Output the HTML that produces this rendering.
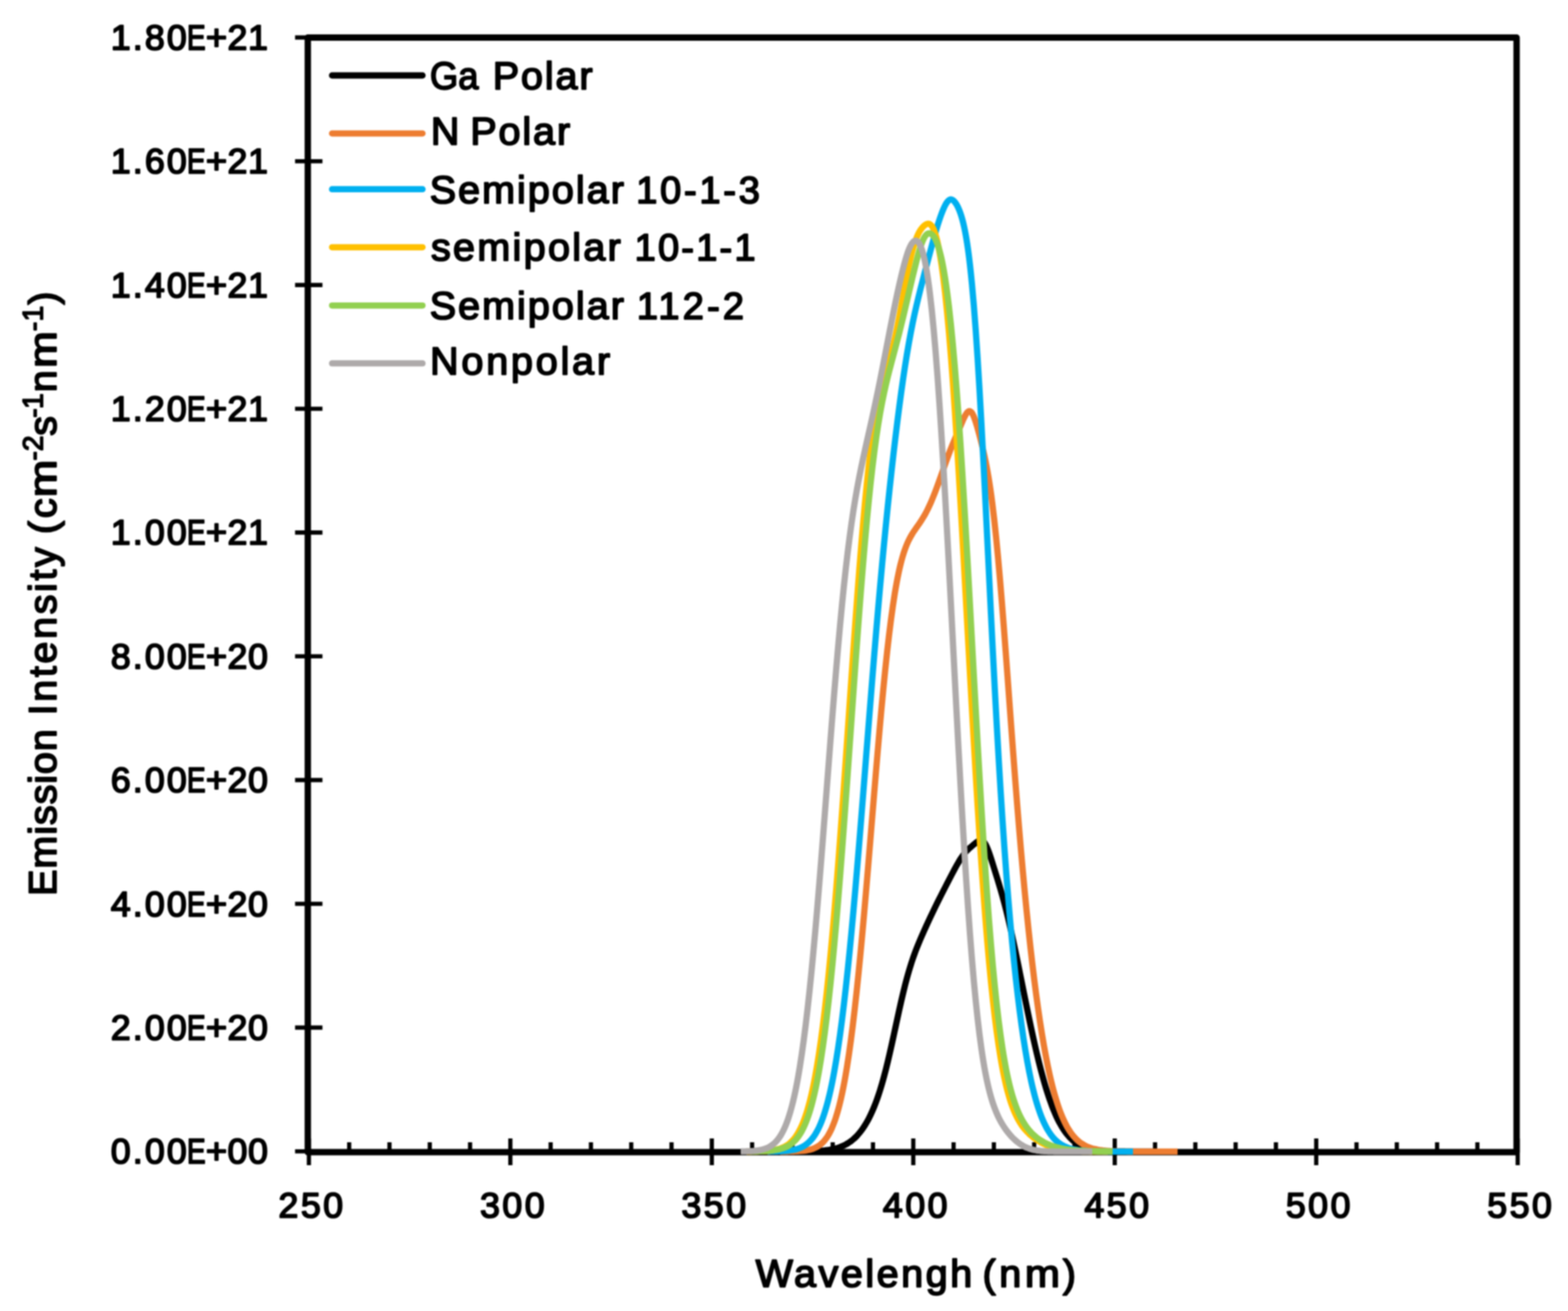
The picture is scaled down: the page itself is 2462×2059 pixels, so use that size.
<!DOCTYPE html>
<html lang="en"><head><meta charset="utf-8"><title>Emission Intensity vs Wavelength</title>
<style>html,body{margin:0;padding:0;background:#fff}body{width:2462px;height:2059px;overflow:hidden}svg{display:block;filter:blur(0.9px)}text{font-family:"Liberation Sans",sans-serif;font-weight:normal;fill:#000;stroke:#000;stroke-width:2.6px;stroke-linejoin:round}</style></head><body>
<svg xmlns="http://www.w3.org/2000/svg" width="2462" height="2059" viewBox="0 0 2462 2059">
<rect x="0" y="0" width="2462" height="2059" fill="#fff"/>
<g fill="none" stroke="#000" stroke-linejoin="round">
<rect x="483.30" y="59.00" width="1898.00" height="1750.60" stroke-width="10.0"/>
</g>
<g stroke="#000" stroke-width="6.6" fill="none">
<line x1="463.3" y1="58.90" x2="506.3" y2="58.90"/>
<line x1="463.3" y1="253.28" x2="506.3" y2="253.28"/>
<line x1="463.3" y1="447.66" x2="506.3" y2="447.66"/>
<line x1="463.3" y1="642.03" x2="506.3" y2="642.03"/>
<line x1="463.3" y1="836.41" x2="506.3" y2="836.41"/>
<line x1="463.3" y1="1030.79" x2="506.3" y2="1030.79"/>
<line x1="463.3" y1="1225.17" x2="506.3" y2="1225.17"/>
<line x1="463.3" y1="1419.54" x2="506.3" y2="1419.54"/>
<line x1="463.3" y1="1613.92" x2="506.3" y2="1613.92"/>
<line x1="463.3" y1="1808.30" x2="506.3" y2="1808.30"/>
<line x1="485.00" y1="1788" x2="485.00" y2="1830"/>
<line x1="548.27" y1="1794" x2="548.27" y2="1809"/>
<line x1="611.53" y1="1794" x2="611.53" y2="1809"/>
<line x1="674.80" y1="1794" x2="674.80" y2="1809"/>
<line x1="738.07" y1="1794" x2="738.07" y2="1809"/>
<line x1="801.33" y1="1788" x2="801.33" y2="1830"/>
<line x1="864.60" y1="1794" x2="864.60" y2="1809"/>
<line x1="927.87" y1="1794" x2="927.87" y2="1809"/>
<line x1="991.13" y1="1794" x2="991.13" y2="1809"/>
<line x1="1054.40" y1="1794" x2="1054.40" y2="1809"/>
<line x1="1117.67" y1="1788" x2="1117.67" y2="1830"/>
<line x1="1180.93" y1="1794" x2="1180.93" y2="1809"/>
<line x1="1244.20" y1="1794" x2="1244.20" y2="1809"/>
<line x1="1307.47" y1="1794" x2="1307.47" y2="1809"/>
<line x1="1370.73" y1="1794" x2="1370.73" y2="1809"/>
<line x1="1434.00" y1="1788" x2="1434.00" y2="1830"/>
<line x1="1497.27" y1="1794" x2="1497.27" y2="1809"/>
<line x1="1560.53" y1="1794" x2="1560.53" y2="1809"/>
<line x1="1623.80" y1="1794" x2="1623.80" y2="1809"/>
<line x1="1687.07" y1="1794" x2="1687.07" y2="1809"/>
<line x1="1750.33" y1="1788" x2="1750.33" y2="1830"/>
<line x1="1813.60" y1="1794" x2="1813.60" y2="1809"/>
<line x1="1876.87" y1="1794" x2="1876.87" y2="1809"/>
<line x1="1940.13" y1="1794" x2="1940.13" y2="1809"/>
<line x1="2003.40" y1="1794" x2="2003.40" y2="1809"/>
<line x1="2066.67" y1="1788" x2="2066.67" y2="1830"/>
<line x1="2129.93" y1="1794" x2="2129.93" y2="1809"/>
<line x1="2193.20" y1="1794" x2="2193.20" y2="1809"/>
<line x1="2256.47" y1="1794" x2="2256.47" y2="1809"/>
<line x1="2319.73" y1="1794" x2="2319.73" y2="1809"/>
<line x1="2383.00" y1="1788" x2="2383.00" y2="1830"/>
</g>
<g fill="none" stroke-linecap="butt" stroke-linejoin="round" stroke-width="9.8">
<path stroke="#000000" d="M1250.00 1808.52 C1251.00 1808.51 1252.00 1808.50 1253.00 1808.49 C1254.00 1808.49 1255.00 1808.48 1256.00 1808.47 C1257.00 1808.46 1258.00 1808.45 1259.00 1808.43 C1260.00 1808.42 1261.00 1808.41 1262.00 1808.39 C1263.00 1808.38 1264.00 1808.36 1265.00 1808.35 C1266.00 1808.33 1267.00 1808.31 1268.00 1808.28 C1269.00 1808.26 1270.00 1808.24 1271.00 1808.21 C1272.00 1808.18 1273.00 1808.16 1274.00 1808.12 C1275.00 1808.09 1276.00 1808.06 1277.00 1808.02 C1278.00 1807.98 1279.00 1807.93 1280.00 1807.89 C1281.00 1807.84 1282.00 1807.79 1283.00 1807.73 C1284.00 1807.68 1285.00 1807.62 1286.00 1807.55 C1287.00 1807.48 1288.00 1807.41 1289.00 1807.33 C1290.00 1807.25 1291.00 1807.17 1292.00 1807.07 C1293.00 1806.98 1294.00 1806.87 1295.00 1806.76 C1296.00 1806.65 1297.00 1806.53 1298.00 1806.40 C1299.00 1806.27 1300.00 1806.13 1301.00 1805.98 C1302.00 1805.82 1303.00 1805.66 1304.00 1805.48 C1305.00 1805.30 1306.00 1805.11 1307.00 1804.90 C1308.00 1804.69 1309.00 1804.47 1310.00 1804.23 C1311.00 1803.99 1312.00 1803.73 1313.00 1803.45 C1314.00 1803.17 1315.00 1802.87 1316.00 1802.55 C1317.00 1802.23 1318.00 1801.89 1319.00 1801.52 C1320.00 1801.15 1321.00 1800.76 1322.00 1800.34 C1323.00 1799.92 1324.01 1799.47 1325.00 1799.00 C1326.01 1798.51 1327.01 1798.01 1328.00 1797.47 C1329.01 1796.92 1330.01 1796.34 1331.00 1795.73 C1332.01 1795.11 1333.01 1794.46 1334.00 1793.78 C1335.01 1793.08 1336.01 1792.35 1337.00 1791.58 C1338.01 1790.79 1339.01 1789.97 1340.00 1789.11 C1341.01 1788.23 1342.01 1787.32 1343.00 1786.36 C1344.01 1785.38 1345.01 1784.36 1346.00 1783.30 C1347.01 1782.21 1348.01 1781.07 1349.00 1779.90 C1350.02 1778.69 1351.02 1777.44 1352.00 1776.14 C1353.02 1774.80 1354.02 1773.42 1355.00 1771.99 C1356.02 1770.52 1357.02 1768.99 1358.00 1767.43 C1359.02 1765.80 1360.02 1764.13 1361.00 1762.41 C1362.02 1760.63 1363.02 1758.80 1364.00 1756.92 C1365.02 1754.97 1366.02 1752.96 1367.00 1750.90 C1368.02 1748.77 1369.02 1746.57 1370.00 1744.33 C1371.02 1741.99 1372.02 1739.60 1373.00 1737.15 C1374.02 1734.60 1375.02 1732.00 1376.00 1729.33 C1377.02 1726.56 1378.02 1723.72 1379.00 1720.82 C1380.02 1717.81 1381.02 1714.73 1382.00 1711.59 C1383.02 1708.34 1384.02 1705.01 1385.00 1701.62 C1386.02 1698.11 1387.02 1694.53 1388.00 1690.89 C1389.02 1687.13 1390.01 1683.30 1391.00 1679.42 C1392.01 1675.43 1393.01 1671.36 1394.00 1667.26 C1395.01 1663.05 1396.01 1658.77 1397.00 1654.47 C1398.01 1650.08 1399.01 1645.63 1400.00 1641.16 C1401.01 1636.64 1402.00 1632.06 1403.00 1627.49 C1404.00 1622.88 1405.00 1618.24 1406.00 1613.61 C1407.00 1608.98 1408.00 1604.33 1409.00 1599.71 C1410.00 1595.12 1410.99 1590.53 1412.00 1585.99 C1412.99 1581.50 1413.99 1577.03 1415.00 1572.63 C1415.99 1568.30 1416.99 1564.01 1418.00 1559.79 C1418.99 1555.68 1419.98 1551.61 1421.00 1547.62 C1421.99 1543.75 1422.98 1539.93 1424.00 1536.19 C1424.98 1532.57 1425.98 1529.02 1427.00 1525.54 C1427.98 1522.19 1428.98 1518.90 1430.00 1515.67 C1430.98 1512.56 1431.98 1509.52 1433.00 1506.53 C1433.98 1503.64 1434.98 1500.82 1436.00 1498.04 C1436.99 1495.34 1437.99 1492.70 1439.00 1490.09 C1439.99 1487.55 1440.99 1485.05 1442.00 1482.58 C1442.99 1480.16 1443.99 1477.78 1445.00 1475.41 C1445.99 1473.08 1446.99 1470.78 1448.00 1468.49 C1448.99 1466.22 1450.00 1463.97 1451.00 1461.74 C1452.00 1459.52 1453.00 1457.31 1454.00 1455.12 C1455.00 1452.93 1456.00 1450.76 1457.00 1448.59 C1458.00 1446.44 1459.00 1444.29 1460.00 1442.16 C1461.00 1440.03 1462.00 1437.91 1463.00 1435.81 C1464.00 1433.71 1465.00 1431.62 1466.00 1429.54 C1467.00 1427.47 1468.00 1425.42 1469.00 1423.37 C1470.00 1421.33 1471.00 1419.30 1472.00 1417.28 C1473.00 1415.27 1474.00 1413.27 1475.00 1411.28 C1476.00 1409.30 1477.00 1407.32 1478.00 1405.35 C1479.00 1403.38 1480.00 1401.42 1481.00 1399.46 C1482.00 1397.51 1483.00 1395.56 1484.00 1393.62 C1485.00 1391.67 1486.00 1389.73 1487.00 1387.79 C1488.00 1385.85 1489.00 1383.91 1490.00 1381.98 C1491.00 1380.05 1492.00 1378.11 1493.00 1376.19 C1494.00 1374.28 1495.00 1372.36 1496.00 1370.46 C1497.00 1368.57 1497.99 1366.69 1499.00 1364.83 C1499.99 1362.99 1500.99 1361.16 1502.00 1359.36 C1502.99 1357.60 1503.99 1355.84 1505.00 1354.14 C1505.99 1352.48 1506.98 1350.83 1508.00 1349.25 C1508.98 1347.71 1509.98 1346.21 1511.00 1344.77 C1511.98 1343.38 1512.98 1342.04 1514.00 1340.76 C1514.98 1339.54 1515.98 1338.36 1517.00 1337.24 C1517.98 1336.17 1518.99 1335.15 1520.00 1334.17 C1520.99 1333.22 1521.99 1332.32 1523.00 1331.43 C1523.99 1330.55 1525.00 1329.72 1526.00 1328.87 C1527.00 1328.02 1528.00 1327.18 1529.00 1326.34 C1530.00 1325.51 1530.99 1324.65 1532.00 1323.85 C1532.99 1323.06 1533.97 1322.23 1535.00 1321.58 C1535.98 1320.97 1536.97 1320.31 1538.00 1320.01 C1538.97 1319.73 1540.03 1319.55 1541.00 1319.76 C1542.03 1319.97 1543.08 1320.61 1544.00 1321.40 C1545.11 1322.35 1546.07 1323.80 1547.00 1325.29 C1548.09 1327.04 1549.05 1329.19 1550.00 1331.36 C1551.06 1333.78 1552.03 1336.47 1553.00 1339.17 C1554.03 1342.05 1555.01 1345.09 1556.00 1348.12 C1557.01 1351.23 1558.00 1354.43 1559.00 1357.61 C1560.00 1360.81 1561.00 1364.04 1562.00 1367.26 C1563.00 1370.49 1564.00 1373.71 1565.00 1376.95 C1566.00 1380.21 1567.01 1383.46 1568.00 1386.75 C1569.01 1390.08 1570.01 1393.43 1571.00 1396.82 C1572.01 1400.29 1573.01 1403.79 1574.00 1407.34 C1575.01 1410.98 1576.01 1414.67 1577.00 1418.41 C1578.01 1422.26 1579.01 1426.16 1580.00 1430.11 C1581.01 1434.16 1582.01 1438.27 1583.00 1442.43 C1584.01 1446.68 1585.01 1450.99 1586.00 1455.34 C1587.01 1459.77 1588.01 1464.26 1589.00 1468.78 C1590.01 1473.38 1591.01 1478.02 1592.00 1482.69 C1593.01 1487.42 1594.00 1492.19 1595.00 1496.98 C1596.00 1501.81 1597.00 1506.68 1598.00 1511.56 C1599.00 1516.47 1600.00 1521.41 1601.00 1526.35 C1602.00 1531.31 1603.00 1536.29 1604.00 1541.26 C1605.00 1546.24 1606.00 1551.22 1607.00 1556.20 C1608.00 1561.16 1609.00 1566.13 1610.00 1571.07 C1611.00 1575.99 1612.00 1580.91 1613.00 1585.80 C1614.00 1590.66 1615.00 1595.50 1616.00 1600.31 C1617.00 1605.07 1617.99 1609.82 1619.00 1614.52 C1619.99 1619.17 1620.99 1623.79 1622.00 1628.37 C1622.99 1632.88 1623.99 1637.36 1625.00 1641.80 C1625.99 1646.15 1626.99 1650.48 1628.00 1654.74 C1628.99 1658.93 1629.99 1663.08 1631.00 1667.17 C1631.99 1671.17 1632.99 1675.13 1634.00 1679.04 C1634.99 1682.85 1635.99 1686.61 1637.00 1690.32 C1637.99 1693.92 1638.99 1697.48 1640.00 1700.98 C1640.99 1704.39 1641.98 1707.74 1643.00 1711.03 C1643.99 1714.22 1644.98 1717.36 1646.00 1720.44 C1646.98 1723.42 1647.98 1726.36 1649.00 1729.22 C1649.98 1732.00 1650.98 1734.72 1652.00 1737.38 C1652.98 1739.95 1653.98 1742.47 1655.00 1744.92 C1655.98 1747.29 1656.98 1749.61 1658.00 1751.86 C1658.98 1754.04 1659.98 1756.16 1661.00 1758.22 C1661.98 1760.21 1662.98 1762.15 1664.00 1764.03 C1664.98 1765.84 1665.98 1767.60 1667.00 1769.30 C1667.98 1770.95 1668.98 1772.54 1670.00 1774.08 C1670.98 1775.56 1671.98 1776.99 1673.00 1778.38 C1673.98 1779.71 1674.98 1781.00 1676.00 1782.23 C1676.98 1783.43 1677.98 1784.58 1679.00 1785.68 C1679.98 1786.75 1680.99 1787.77 1682.00 1788.74 C1682.99 1789.69 1683.99 1790.60 1685.00 1791.46 C1685.99 1792.30 1686.99 1793.10 1688.00 1793.86 C1688.99 1794.60 1689.99 1795.30 1691.00 1795.97 C1691.99 1796.62 1692.99 1797.23 1694.00 1797.81 C1694.99 1798.38 1695.99 1798.91 1697.00 1799.42 C1697.99 1799.91 1698.99 1800.38 1700.00 1800.81 C1700.99 1801.24 1702.00 1801.64 1703.00 1802.02 C1704.00 1802.39 1705.00 1802.74 1706.00 1803.06 C1707.00 1803.38 1708.00 1803.68 1709.00 1803.95 C1710.00 1804.23 1711.00 1804.48 1712.00 1804.71 C1713.00 1804.95 1714.00 1805.16 1715.00 1805.36 C1716.00 1805.56 1717.00 1805.74 1718.00 1805.91 C1719.00 1806.08 1720.00 1806.23 1721.00 1806.38 C1722.00 1806.52 1723.00 1806.65 1724.00 1806.77 C1725.00 1806.89 1726.00 1806.99 1727.00 1807.10 C1728.00 1807.20 1729.00 1807.28 1730.00 1807.37 C1731.00 1807.45 1732.00 1807.53 1733.00 1807.60 C1734.00 1807.66 1735.00 1807.73 1736.00 1807.78 C1737.00 1807.84 1738.00 1807.89 1739.00 1807.94 C1740.00 1807.99 1741.00 1808.03 1742.00 1808.07 C1743.00 1808.11 1744.00 1808.14 1745.00 1808.17 C1746.00 1808.20 1747.00 1808.23 1748.00 1808.26 C1749.00 1808.28 1750.00 1808.31 1751.00 1808.33 C1752.00 1808.35 1753.00 1808.37 1754.00 1808.38 C1755.00 1808.40 1756.00 1808.41 1757.00 1808.43 C1758.00 1808.44 1759.00 1808.45 1760.00 1808.46 C1761.00 1808.47 1762.00 1808.48 1763.00 1808.49 C1764.00 1808.50 1765.00 1808.51 1766.00 1808.52 C1767.00 1808.52 1768.00 1808.53 1769.00 1808.53 C1770.00 1808.54 1771.00 1808.54 1772.00 1808.55 C1773.00 1808.55 1774.00 1808.56 1775.00 1808.56 C1776.00 1808.56 1777.00 1808.57 1778.00 1808.57 C1779.00 1808.57 1780.00 1808.57 1781.00 1808.58 C1782.00 1808.58 1783.00 1808.58 1784.00 1808.58 C1785.00 1808.58 1786.00 1808.58 1787.00 1808.59 C1788.00 1808.59 1789.00 1808.59 1790.00 1808.59 C1791.00 1808.59 1792.00 1808.59 1793.00 1808.59 C1794.00 1808.59 1795.00 1808.59 1796.00 1808.59 C1797.00 1808.59 1798.00 1808.59 1799.00 1808.60 C1800.00 1808.60 1801.00 1808.60 1802.00 1808.60 C1803.00 1808.60 1804.00 1808.60 1805.00 1808.60 C1806.00 1808.60 1807.10 1808.60 1808.00 1808.60 C1808.73 1808.60 1809.33 1808.60 1810.00 1808.60"/>
<path stroke="#ED7D31" d="M1225.00 1808.57 C1226.00 1808.57 1227.00 1808.56 1228.00 1808.56 C1229.00 1808.55 1230.00 1808.55 1231.00 1808.54 C1232.00 1808.53 1233.00 1808.53 1234.00 1808.52 C1235.00 1808.51 1236.00 1808.50 1237.00 1808.49 C1238.00 1808.47 1239.00 1808.46 1240.00 1808.44 C1241.00 1808.43 1242.00 1808.41 1243.00 1808.39 C1244.00 1808.36 1245.00 1808.34 1246.00 1808.31 C1247.00 1808.28 1248.00 1808.25 1249.00 1808.21 C1250.00 1808.17 1251.00 1808.13 1252.00 1808.08 C1253.00 1808.03 1254.00 1807.98 1255.00 1807.91 C1256.00 1807.84 1257.00 1807.77 1258.00 1807.69 C1259.00 1807.60 1260.00 1807.51 1261.00 1807.40 C1262.00 1807.29 1263.00 1807.17 1264.00 1807.03 C1265.00 1806.89 1266.00 1806.74 1267.00 1806.56 C1268.00 1806.39 1269.00 1806.19 1270.00 1805.97 C1271.00 1805.74 1272.00 1805.50 1273.00 1805.22 C1274.00 1804.94 1275.01 1804.63 1276.00 1804.28 C1277.01 1803.93 1278.01 1803.55 1279.00 1803.12 C1280.01 1802.68 1281.01 1802.20 1282.00 1801.68 C1283.01 1801.13 1284.01 1800.55 1285.00 1799.90 C1286.02 1799.24 1287.02 1798.52 1288.00 1797.74 C1289.02 1796.94 1290.02 1796.06 1291.00 1795.12 C1292.02 1794.14 1293.02 1793.09 1294.00 1791.97 C1295.03 1790.79 1296.03 1789.52 1297.00 1788.19 C1298.03 1786.77 1299.03 1785.27 1300.00 1783.69 C1301.03 1782.01 1302.03 1780.24 1303.00 1778.38 C1304.03 1776.40 1305.03 1774.31 1306.00 1772.14 C1307.03 1769.82 1308.03 1767.39 1309.00 1764.86 C1310.03 1762.17 1311.03 1759.35 1312.00 1756.43 C1313.03 1753.32 1314.03 1750.07 1315.00 1746.72 C1316.03 1743.15 1317.03 1739.45 1318.00 1735.62 C1319.03 1731.56 1320.03 1727.35 1321.00 1723.01 C1322.03 1718.42 1323.03 1713.67 1324.00 1708.79 C1325.03 1703.63 1326.02 1698.31 1327.00 1692.85 C1328.03 1687.11 1329.02 1681.18 1330.00 1675.12 C1331.03 1668.76 1332.02 1662.22 1333.00 1655.53 C1334.02 1648.54 1335.02 1641.36 1336.00 1634.03 C1337.02 1626.40 1338.02 1618.58 1339.00 1610.62 C1340.02 1602.34 1341.02 1593.88 1342.00 1585.29 C1343.02 1576.39 1344.02 1567.30 1345.00 1558.09 C1346.02 1548.58 1347.01 1538.90 1348.00 1529.10 C1349.01 1519.03 1350.01 1508.78 1351.00 1498.44 C1352.01 1487.84 1353.01 1477.08 1354.00 1466.24 C1355.01 1455.18 1356.01 1443.97 1357.00 1432.70 C1358.01 1421.24 1359.01 1409.66 1360.00 1398.02 C1361.01 1386.25 1362.00 1374.37 1363.00 1362.47 C1364.00 1350.47 1365.00 1338.39 1366.00 1326.30 C1367.00 1314.17 1368.00 1301.99 1369.00 1289.82 C1370.00 1277.66 1371.00 1265.47 1372.00 1253.34 C1373.00 1241.25 1374.00 1229.17 1375.00 1217.16 C1376.00 1205.26 1376.99 1193.38 1378.00 1181.61 C1378.99 1169.99 1379.99 1158.42 1381.00 1146.99 C1381.99 1135.75 1382.99 1124.59 1384.00 1113.59 C1384.99 1102.83 1385.99 1092.17 1387.00 1081.68 C1387.99 1071.48 1388.98 1061.39 1390.00 1051.50 C1390.98 1041.92 1391.98 1032.48 1393.00 1023.24 C1393.98 1014.34 1394.98 1005.59 1396.00 997.06 C1396.98 988.88 1397.97 980.86 1399.00 973.06 C1399.98 965.63 1400.97 958.36 1402.00 951.31 C1402.97 944.63 1403.97 938.12 1405.00 931.82 C1405.97 925.88 1406.97 920.11 1408.00 914.55 C1408.97 909.33 1409.96 904.27 1411.00 899.41 C1411.97 894.87 1412.96 890.48 1414.00 886.28 C1414.97 882.37 1415.96 878.61 1417.00 875.01 C1417.97 871.66 1418.96 868.45 1420.00 865.39 C1420.97 862.55 1421.96 859.82 1423.00 857.22 C1423.97 854.80 1424.97 852.49 1426.00 850.27 C1426.97 848.19 1427.97 846.22 1429.00 844.31 C1429.98 842.50 1430.98 840.77 1432.00 839.09 C1432.98 837.47 1433.99 835.93 1435.00 834.40 C1435.99 832.90 1437.00 831.46 1438.00 830.01 C1439.00 828.58 1440.00 827.17 1441.00 825.74 C1442.00 824.31 1443.01 822.88 1444.00 821.41 C1445.01 819.93 1446.01 818.43 1447.00 816.88 C1448.01 815.30 1449.01 813.69 1450.00 812.04 C1451.02 810.33 1452.02 808.58 1453.00 806.79 C1454.02 804.93 1455.02 803.03 1456.00 801.08 C1457.02 799.06 1458.02 796.99 1459.00 794.88 C1460.02 792.69 1461.01 790.46 1462.00 788.18 C1463.01 785.84 1464.01 783.45 1465.00 781.02 C1466.01 778.53 1467.01 775.99 1468.00 773.43 C1469.01 770.81 1470.01 768.16 1471.00 765.48 C1472.01 762.76 1473.01 760.00 1474.00 757.24 C1475.01 754.45 1476.00 751.63 1477.00 748.81 C1478.00 745.97 1479.00 743.12 1480.00 740.28 C1481.00 737.44 1482.00 734.60 1483.00 731.77 C1484.00 728.96 1484.99 726.16 1486.00 723.38 C1486.99 720.64 1487.99 717.90 1489.00 715.21 C1489.99 712.56 1490.99 709.93 1492.00 707.34 C1492.99 704.80 1493.99 702.29 1495.00 699.81 C1495.99 697.38 1496.99 694.98 1498.00 692.60 C1498.99 690.25 1500.00 687.93 1501.00 685.61 C1502.00 683.29 1503.00 681.00 1504.00 678.68 C1505.00 676.35 1506.00 674.02 1507.00 671.68 C1508.00 669.33 1508.99 666.95 1510.00 664.61 C1510.99 662.30 1511.97 659.95 1513.00 657.75 C1513.97 655.67 1514.93 653.53 1516.00 651.73 C1516.95 650.13 1517.87 648.44 1519.00 647.41 C1519.92 646.58 1520.99 645.73 1522.00 645.71 C1522.99 645.68 1524.10 646.39 1525.00 647.21 C1526.17 648.26 1527.08 650.16 1528.00 651.98 C1529.11 654.17 1530.05 656.87 1531.00 659.57 C1532.06 662.56 1533.03 665.87 1534.00 669.18 C1535.03 672.68 1536.02 676.35 1537.00 680.04 C1538.02 683.85 1539.01 687.74 1540.00 691.68 C1541.01 695.72 1542.02 699.81 1543.00 704.01 C1544.02 708.35 1545.02 712.75 1546.00 717.31 C1547.03 722.10 1548.03 726.99 1549.00 732.07 C1550.03 737.47 1551.03 743.04 1552.00 748.83 C1553.04 755.01 1554.03 761.42 1555.00 768.06 C1556.04 775.15 1557.03 782.52 1558.00 790.10 C1559.03 798.19 1560.03 806.57 1561.00 815.17 C1562.03 824.28 1563.02 833.69 1564.00 843.31 C1565.03 853.41 1566.02 863.82 1567.00 874.41 C1568.02 885.45 1569.02 896.78 1570.00 908.25 C1571.02 920.11 1572.01 932.23 1573.00 944.46 C1574.01 957.01 1575.01 969.77 1576.00 982.60 C1577.01 995.67 1578.01 1008.91 1579.00 1022.18 C1580.01 1035.59 1581.00 1049.13 1582.00 1062.65 C1583.00 1076.23 1584.00 1089.89 1585.00 1103.50 C1586.00 1117.09 1587.00 1130.70 1588.00 1144.24 C1589.00 1157.69 1589.99 1171.13 1591.00 1184.46 C1591.99 1197.65 1592.99 1210.80 1594.00 1223.82 C1594.99 1236.65 1595.99 1249.41 1597.00 1262.03 C1597.99 1274.44 1598.99 1286.75 1600.00 1298.92 C1600.99 1310.85 1601.99 1322.67 1603.00 1334.34 C1603.99 1345.77 1604.99 1357.08 1606.00 1368.24 C1606.99 1379.15 1607.99 1389.93 1609.00 1400.58 C1609.99 1410.96 1610.99 1421.22 1612.00 1431.34 C1612.99 1441.21 1613.99 1450.95 1615.00 1460.56 C1615.99 1469.91 1616.99 1479.14 1618.00 1488.24 C1618.99 1497.09 1619.99 1505.82 1621.00 1514.41 C1621.99 1522.77 1622.98 1531.01 1624.00 1539.11 C1624.99 1546.98 1625.98 1554.74 1627.00 1562.37 C1627.99 1569.76 1628.98 1577.04 1630.00 1584.20 C1630.98 1591.13 1631.98 1597.95 1633.00 1604.64 C1633.98 1611.12 1634.98 1617.48 1636.00 1623.73 C1636.98 1629.76 1637.98 1635.69 1639.00 1641.49 C1639.98 1647.09 1640.98 1652.59 1642.00 1657.97 C1642.98 1663.15 1643.98 1668.24 1645.00 1673.21 C1645.98 1677.99 1646.98 1682.67 1648.00 1687.25 C1648.98 1691.64 1649.98 1695.94 1651.00 1700.14 C1651.98 1704.17 1652.98 1708.10 1654.00 1711.94 C1654.98 1715.62 1655.98 1719.21 1657.00 1722.70 C1657.98 1726.05 1658.98 1729.31 1660.00 1732.49 C1660.98 1735.52 1661.98 1738.48 1663.00 1741.35 C1663.98 1744.09 1664.98 1746.76 1666.00 1749.35 C1666.98 1751.82 1667.98 1754.22 1669.00 1756.55 C1669.98 1758.77 1670.98 1760.92 1672.00 1763.00 C1672.98 1764.99 1673.98 1766.92 1675.00 1768.77 C1675.98 1770.55 1676.98 1772.26 1678.00 1773.91 C1678.98 1775.49 1679.98 1777.01 1681.00 1778.47 C1681.98 1779.87 1682.98 1781.22 1684.00 1782.51 C1684.98 1783.75 1685.98 1784.94 1687.00 1786.07 C1687.98 1787.17 1688.98 1788.21 1690.00 1789.20 C1690.98 1790.16 1691.99 1791.08 1693.00 1791.95 C1693.99 1792.79 1694.99 1793.59 1696.00 1794.34 C1696.99 1795.08 1697.99 1795.77 1699.00 1796.43 C1699.99 1797.07 1700.99 1797.67 1702.00 1798.24 C1702.99 1798.80 1703.99 1799.32 1705.00 1799.81 C1705.99 1800.29 1706.99 1800.74 1708.00 1801.16 C1708.99 1801.58 1710.00 1801.96 1711.00 1802.32 C1712.00 1802.68 1713.00 1803.01 1714.00 1803.32 C1715.00 1803.62 1716.00 1803.90 1717.00 1804.17 C1718.00 1804.43 1719.00 1804.67 1720.00 1804.89 C1721.00 1805.11 1722.00 1805.32 1723.00 1805.51 C1724.00 1805.69 1725.00 1805.87 1726.00 1806.03 C1727.00 1806.19 1728.00 1806.33 1729.00 1806.47 C1730.00 1806.60 1731.00 1806.72 1732.00 1806.83 C1733.00 1806.95 1734.00 1807.05 1735.00 1807.14 C1736.00 1807.24 1737.00 1807.32 1738.00 1807.40 C1739.00 1807.48 1740.00 1807.55 1741.00 1807.62 C1742.00 1807.68 1743.00 1807.74 1744.00 1807.80 C1745.00 1807.85 1746.00 1807.90 1747.00 1807.95 C1748.00 1807.99 1749.00 1808.03 1750.00 1808.07 C1751.00 1808.11 1752.00 1808.14 1753.00 1808.17 C1754.00 1808.20 1755.00 1808.23 1756.00 1808.25 C1757.00 1808.28 1758.00 1808.30 1759.00 1808.32 C1760.00 1808.34 1761.00 1808.36 1762.00 1808.37 C1763.00 1808.39 1764.00 1808.41 1765.00 1808.42 C1766.00 1808.43 1767.00 1808.44 1768.00 1808.46 C1769.00 1808.47 1770.00 1808.48 1771.00 1808.48 C1772.00 1808.49 1773.00 1808.50 1774.00 1808.51 C1775.00 1808.52 1776.00 1808.52 1777.00 1808.53 C1778.00 1808.53 1779.00 1808.54 1780.00 1808.54 C1781.00 1808.55 1782.00 1808.55 1783.00 1808.55 C1784.00 1808.56 1785.00 1808.56 1786.00 1808.56 C1787.00 1808.57 1788.00 1808.57 1789.00 1808.57 C1790.00 1808.57 1791.00 1808.58 1792.00 1808.58 C1793.00 1808.58 1794.00 1808.58 1795.00 1808.58 C1796.00 1808.58 1797.00 1808.59 1798.00 1808.59 C1799.00 1808.59 1800.00 1808.59 1801.00 1808.59 C1802.00 1808.59 1803.00 1808.59 1804.00 1808.59 C1805.00 1808.59 1806.00 1808.59 1807.00 1808.59 C1808.00 1808.59 1809.00 1808.59 1810.00 1808.60 C1811.00 1808.60 1812.00 1808.60 1813.00 1808.60 C1814.00 1808.60 1815.00 1808.60 1816.00 1808.60 C1817.00 1808.60 1818.00 1808.60 1819.00 1808.60 C1820.00 1808.60 1821.00 1808.60 1822.00 1808.60 C1823.00 1808.60 1824.00 1808.60 1825.00 1808.60 C1826.00 1808.60 1827.00 1808.60 1828.00 1808.60 C1829.00 1808.60 1830.00 1808.60 1831.00 1808.60 C1832.00 1808.60 1833.00 1808.60 1834.00 1808.60 C1835.00 1808.60 1836.00 1808.60 1837.00 1808.60 C1838.00 1808.60 1839.00 1808.60 1840.00 1808.60 C1841.00 1808.60 1842.00 1808.60 1843.00 1808.60 C1844.00 1808.60 1845.00 1808.60 1846.00 1808.60 C1847.00 1808.60 1848.00 1808.60 1849.00 1808.60"/>
<path stroke="#00B0F0" d="M1205.00 1808.52 C1206.00 1808.51 1207.00 1808.51 1208.00 1808.50 C1209.00 1808.49 1210.00 1808.48 1211.00 1808.46 C1212.00 1808.45 1213.00 1808.44 1214.00 1808.42 C1215.00 1808.40 1216.00 1808.38 1217.00 1808.36 C1218.00 1808.34 1219.00 1808.31 1220.00 1808.29 C1221.00 1808.26 1222.00 1808.23 1223.00 1808.19 C1224.00 1808.15 1225.00 1808.11 1226.00 1808.07 C1227.00 1808.02 1228.00 1807.97 1229.00 1807.91 C1230.00 1807.85 1231.00 1807.79 1232.00 1807.71 C1233.00 1807.64 1234.00 1807.56 1235.00 1807.46 C1236.00 1807.37 1237.00 1807.27 1238.00 1807.15 C1239.00 1807.03 1240.00 1806.91 1241.00 1806.76 C1242.00 1806.61 1243.00 1806.45 1244.00 1806.27 C1245.00 1806.09 1246.00 1805.90 1247.00 1805.67 C1248.00 1805.45 1249.00 1805.21 1250.00 1804.93 C1251.00 1804.66 1252.00 1804.36 1253.00 1804.03 C1254.00 1803.69 1255.01 1803.33 1256.00 1802.93 C1257.01 1802.52 1258.01 1802.08 1259.00 1801.60 C1260.01 1801.10 1261.01 1800.57 1262.00 1799.99 C1263.01 1799.39 1264.01 1798.75 1265.00 1798.06 C1266.02 1797.35 1267.02 1796.58 1268.00 1795.76 C1269.02 1794.91 1270.02 1794.00 1271.00 1793.03 C1272.02 1792.02 1273.02 1790.94 1274.00 1789.80 C1275.02 1788.61 1276.02 1787.34 1277.00 1786.01 C1278.03 1784.61 1279.03 1783.13 1280.00 1781.58 C1281.03 1779.94 1282.03 1778.22 1283.00 1776.43 C1284.03 1774.53 1285.03 1772.54 1286.00 1770.46 C1287.03 1768.27 1288.03 1765.98 1289.00 1763.60 C1290.03 1761.08 1291.03 1758.46 1292.00 1755.75 C1293.03 1752.87 1294.03 1749.88 1295.00 1746.80 C1296.03 1743.53 1297.03 1740.15 1298.00 1736.66 C1299.03 1732.98 1300.03 1729.17 1301.00 1725.24 C1302.03 1721.11 1303.02 1716.83 1304.00 1712.45 C1305.03 1707.83 1306.02 1703.06 1307.00 1698.18 C1308.03 1693.05 1309.02 1687.77 1310.00 1682.37 C1311.02 1676.70 1312.02 1670.88 1313.00 1664.93 C1314.02 1658.71 1315.02 1652.32 1316.00 1645.81 C1317.02 1639.01 1318.02 1632.05 1319.00 1624.96 C1320.02 1617.58 1321.02 1610.03 1322.00 1602.35 C1323.02 1594.38 1324.02 1586.25 1325.00 1577.98 C1326.02 1569.42 1327.02 1560.70 1328.00 1551.85 C1329.02 1542.71 1330.01 1533.41 1331.00 1523.99 C1332.01 1514.29 1333.01 1504.44 1334.00 1494.47 C1335.01 1484.23 1336.01 1473.85 1337.00 1463.36 C1338.01 1452.63 1339.01 1441.75 1340.00 1430.78 C1341.01 1419.58 1342.01 1408.26 1343.00 1396.85 C1344.01 1385.24 1345.01 1373.52 1346.00 1361.73 C1347.01 1349.77 1348.01 1337.71 1349.00 1325.60 C1350.01 1313.35 1351.00 1301.01 1352.00 1288.64 C1353.00 1276.17 1354.00 1263.63 1355.00 1251.08 C1356.00 1238.46 1357.00 1225.78 1358.00 1213.11 C1359.00 1200.42 1360.00 1187.69 1361.00 1174.98 C1362.00 1162.28 1363.00 1149.56 1364.00 1136.89 C1365.00 1124.26 1366.00 1111.63 1367.00 1099.06 C1368.00 1086.56 1369.00 1074.09 1370.00 1061.69 C1371.00 1049.39 1371.99 1037.13 1373.00 1024.96 C1373.99 1012.91 1374.99 1000.92 1376.00 989.02 C1376.99 977.27 1377.99 965.58 1379.00 953.99 C1379.99 942.57 1380.99 931.23 1382.00 919.98 C1382.99 908.91 1383.99 897.93 1385.00 887.04 C1385.99 876.34 1386.99 865.72 1388.00 855.20 C1388.99 844.86 1389.99 834.62 1391.00 824.47 C1391.99 814.50 1392.99 804.62 1394.00 794.83 C1394.99 785.22 1395.99 775.69 1397.00 766.26 C1397.99 756.99 1398.99 747.82 1400.00 738.73 C1400.99 729.81 1401.99 720.97 1403.00 712.22 C1403.99 703.64 1404.99 695.13 1406.00 686.72 C1406.99 678.48 1407.99 670.32 1409.00 662.25 C1409.99 654.36 1410.99 646.55 1412.00 638.84 C1412.99 631.31 1413.99 623.86 1415.00 616.52 C1415.99 609.36 1416.99 602.30 1418.00 595.34 C1418.99 588.59 1419.98 581.92 1421.00 575.36 C1421.99 569.01 1422.98 562.75 1424.00 556.61 C1424.98 550.66 1425.98 544.82 1427.00 539.08 C1427.98 533.54 1428.98 528.09 1430.00 522.75 C1430.98 517.58 1431.98 512.51 1433.00 507.53 C1433.98 502.71 1434.98 497.98 1436.00 493.32 C1436.99 488.80 1437.99 484.36 1439.00 479.98 C1439.99 475.70 1440.99 471.49 1442.00 467.31 C1442.99 463.22 1443.99 459.18 1445.00 455.16 C1445.99 451.19 1447.00 447.26 1448.00 443.34 C1449.00 439.46 1450.00 435.59 1451.00 431.73 C1452.00 427.88 1453.00 424.05 1454.00 420.22 C1455.00 416.40 1456.00 412.58 1457.00 408.77 C1458.00 404.97 1459.00 401.17 1460.00 397.40 C1461.00 393.64 1461.99 389.89 1463.00 386.17 C1463.99 382.49 1464.99 378.83 1466.00 375.21 C1466.99 371.65 1467.99 368.12 1469.00 364.65 C1469.99 361.26 1470.98 357.91 1472.00 354.63 C1472.99 351.45 1473.98 348.31 1475.00 345.27 C1475.98 342.33 1476.97 339.45 1478.00 336.67 C1478.98 334.03 1479.96 331.43 1481.00 328.98 C1481.97 326.70 1482.94 324.46 1484.00 322.46 C1484.95 320.64 1485.91 318.86 1487.00 317.43 C1487.94 316.20 1488.91 314.98 1490.00 314.27 C1490.93 313.66 1492.00 313.20 1493.00 313.18 C1494.00 313.16 1495.06 313.59 1496.00 314.14 C1497.07 314.77 1498.06 315.84 1499.00 316.93 C1500.07 318.18 1501.05 319.72 1502.00 321.32 C1503.06 323.12 1504.05 325.12 1505.00 327.25 C1506.06 329.61 1507.05 332.16 1508.00 334.88 C1509.06 337.91 1510.05 341.17 1511.00 344.63 C1512.06 348.49 1513.05 352.64 1514.00 357.02 C1515.06 361.92 1516.05 367.15 1517.00 372.66 C1518.06 378.79 1519.05 385.32 1520.00 392.16 C1521.06 399.72 1522.04 407.73 1523.00 416.08 C1524.05 425.23 1525.04 434.88 1526.00 444.89 C1527.04 455.75 1528.03 467.15 1529.00 478.90 C1530.04 491.53 1531.03 504.70 1532.00 518.22 C1533.03 532.60 1534.02 547.51 1535.00 562.73 C1536.03 578.75 1537.02 595.28 1538.00 612.06 C1539.02 629.54 1540.01 647.48 1541.00 665.61 C1542.02 684.30 1543.01 703.37 1544.00 722.56 C1545.01 742.16 1546.01 762.06 1547.00 781.99 C1548.01 802.17 1549.00 822.56 1550.00 842.90 C1551.00 863.32 1552.00 883.86 1553.00 904.28 C1554.00 924.62 1554.99 945.00 1556.00 965.21 C1556.99 985.20 1557.99 1005.14 1559.00 1024.87 C1559.99 1044.27 1560.99 1063.57 1562.00 1082.61 C1562.99 1101.25 1563.99 1119.73 1565.00 1137.94 C1565.99 1155.69 1566.99 1173.25 1568.00 1190.52 C1568.99 1207.31 1569.98 1223.88 1571.00 1240.18 C1571.98 1255.98 1572.98 1271.54 1574.00 1286.84 C1574.98 1301.65 1575.98 1316.22 1577.00 1330.54 C1577.98 1344.38 1578.98 1357.99 1580.00 1371.36 C1580.98 1384.27 1581.98 1396.97 1583.00 1409.43 C1583.98 1421.46 1584.98 1433.28 1586.00 1444.88 C1586.98 1456.08 1587.98 1467.08 1589.00 1477.87 C1589.98 1488.28 1590.98 1498.50 1592.00 1508.52 C1592.98 1518.18 1593.98 1527.67 1595.00 1536.97 C1595.98 1545.92 1596.98 1554.71 1598.00 1563.32 C1598.98 1571.61 1599.98 1579.74 1601.00 1587.69 C1601.98 1595.34 1602.98 1602.84 1604.00 1610.17 C1604.98 1617.22 1605.98 1624.11 1607.00 1630.86 C1607.98 1637.32 1608.98 1643.65 1610.00 1649.83 C1610.98 1655.75 1611.98 1661.54 1613.00 1667.19 C1613.98 1672.59 1614.98 1677.87 1616.00 1683.02 C1616.98 1687.93 1617.98 1692.73 1619.00 1697.40 C1619.98 1701.85 1620.97 1706.20 1622.00 1710.42 C1622.98 1714.44 1623.97 1718.37 1625.00 1722.17 C1625.98 1725.80 1626.97 1729.33 1628.00 1732.75 C1628.98 1736.00 1629.97 1739.16 1631.00 1742.22 C1631.98 1745.13 1632.97 1747.96 1634.00 1750.69 C1634.98 1753.28 1635.97 1755.80 1637.00 1758.22 C1637.98 1760.53 1638.97 1762.76 1640.00 1764.91 C1640.98 1766.95 1641.97 1768.92 1643.00 1770.82 C1643.98 1772.62 1644.98 1774.36 1646.00 1776.03 C1646.98 1777.62 1647.98 1779.14 1649.00 1780.60 C1649.98 1782.00 1650.98 1783.33 1652.00 1784.60 C1652.98 1785.83 1653.98 1786.99 1655.00 1788.10 C1655.98 1789.16 1656.98 1790.17 1658.00 1791.13 C1658.98 1792.06 1659.98 1792.94 1661.00 1793.76 C1661.99 1794.57 1662.99 1795.32 1664.00 1796.04 C1664.99 1796.73 1665.99 1797.38 1667.00 1797.99 C1667.99 1798.59 1668.99 1799.15 1670.00 1799.67 C1670.99 1800.18 1671.99 1800.66 1673.00 1801.10 C1673.99 1801.54 1674.99 1801.95 1676.00 1802.33 C1676.99 1802.70 1678.00 1803.05 1679.00 1803.37 C1680.00 1803.68 1681.00 1803.97 1682.00 1804.25 C1683.00 1804.52 1684.00 1804.76 1685.00 1804.99 C1686.00 1805.22 1687.00 1805.42 1688.00 1805.61 C1689.00 1805.80 1690.00 1805.98 1691.00 1806.14 C1692.00 1806.30 1693.00 1806.44 1694.00 1806.58 C1695.00 1806.71 1696.00 1806.83 1697.00 1806.94 C1698.00 1807.05 1699.00 1807.15 1700.00 1807.24 C1701.00 1807.34 1702.00 1807.42 1703.00 1807.50 C1704.00 1807.57 1705.00 1807.64 1706.00 1807.70 C1707.00 1807.77 1708.00 1807.82 1709.00 1807.87 C1710.00 1807.93 1711.00 1807.97 1712.00 1808.01 C1713.00 1808.06 1714.00 1808.09 1715.00 1808.13 C1716.00 1808.16 1717.00 1808.19 1718.00 1808.22 C1719.00 1808.25 1720.00 1808.27 1721.00 1808.30 C1722.00 1808.32 1723.00 1808.34 1724.00 1808.36 C1725.00 1808.38 1726.00 1808.39 1727.00 1808.41 C1728.00 1808.42 1729.00 1808.44 1730.00 1808.45 C1731.00 1808.46 1732.00 1808.47 1733.00 1808.48 C1734.00 1808.49 1735.00 1808.50 1736.00 1808.50 C1737.00 1808.51 1738.00 1808.52 1739.00 1808.53 C1740.00 1808.53 1741.00 1808.54 1742.00 1808.54 C1743.00 1808.55 1744.00 1808.55 1745.00 1808.55 C1746.00 1808.56 1747.00 1808.56 1748.00 1808.56 C1749.00 1808.57 1750.00 1808.57 1751.00 1808.57 C1752.00 1808.57 1753.00 1808.58 1754.00 1808.58 C1755.00 1808.58 1756.00 1808.58 1757.00 1808.58 C1758.00 1808.58 1759.00 1808.59 1760.00 1808.59 C1761.00 1808.59 1762.00 1808.59 1763.00 1808.59 C1764.00 1808.59 1765.00 1808.59 1766.00 1808.59 C1767.00 1808.59 1768.00 1808.59 1769.00 1808.59 C1770.00 1808.59 1771.00 1808.60 1772.00 1808.60 C1773.00 1808.60 1774.00 1808.60 1775.00 1808.60 C1776.00 1808.60 1777.27 1808.60 1778.00 1808.60 C1778.42 1808.60 1778.67 1808.60 1779.00 1808.60"/>
<path stroke="#FFC000" d="M1172.00 1808.54 C1173.00 1808.54 1174.00 1808.53 1175.00 1808.53 C1176.00 1808.52 1177.00 1808.51 1178.00 1808.50 C1179.00 1808.49 1180.00 1808.48 1181.00 1808.47 C1182.00 1808.46 1183.00 1808.45 1184.00 1808.43 C1185.00 1808.41 1186.00 1808.40 1187.00 1808.38 C1188.00 1808.36 1189.00 1808.34 1190.00 1808.31 C1191.00 1808.28 1192.00 1808.26 1193.00 1808.22 C1194.00 1808.19 1195.00 1808.15 1196.00 1808.11 C1197.00 1808.07 1198.00 1808.03 1199.00 1807.97 C1200.00 1807.92 1201.00 1807.86 1202.00 1807.79 C1203.00 1807.73 1204.00 1807.66 1205.00 1807.57 C1206.00 1807.49 1207.00 1807.40 1208.00 1807.29 C1209.00 1807.19 1210.00 1807.07 1211.00 1806.94 C1212.00 1806.81 1213.00 1806.67 1214.00 1806.51 C1215.00 1806.35 1216.00 1806.17 1217.00 1805.98 C1218.00 1805.78 1219.00 1805.56 1220.00 1805.32 C1221.00 1805.07 1222.00 1804.81 1223.00 1804.51 C1224.00 1804.21 1225.01 1803.89 1226.00 1803.53 C1227.01 1803.17 1228.01 1802.77 1229.00 1802.34 C1230.01 1801.90 1231.01 1801.42 1232.00 1800.90 C1233.01 1800.37 1234.01 1799.80 1235.00 1799.17 C1236.01 1798.54 1237.02 1797.85 1238.00 1797.11 C1239.02 1796.34 1240.02 1795.52 1241.00 1794.65 C1242.02 1793.74 1243.02 1792.77 1244.00 1791.73 C1245.02 1790.65 1246.02 1789.51 1247.00 1788.29 C1248.03 1787.02 1249.03 1785.67 1250.00 1784.26 C1251.03 1782.77 1252.03 1781.19 1253.00 1779.54 C1254.03 1777.80 1255.03 1775.97 1256.00 1774.06 C1257.03 1772.04 1258.03 1769.93 1259.00 1767.72 C1260.03 1765.39 1261.03 1762.95 1262.00 1760.42 C1263.03 1757.74 1264.03 1754.95 1265.00 1752.06 C1266.03 1749.00 1267.03 1745.81 1268.00 1742.53 C1269.03 1739.04 1270.03 1735.43 1271.00 1731.71 C1272.03 1727.77 1273.03 1723.69 1274.00 1719.50 C1275.03 1715.07 1276.03 1710.49 1277.00 1705.79 C1278.03 1700.83 1279.02 1695.71 1280.00 1690.46 C1281.03 1684.94 1282.02 1679.26 1283.00 1673.43 C1284.03 1667.31 1285.02 1661.03 1286.00 1654.59 C1287.02 1647.85 1288.02 1640.94 1289.00 1633.87 C1290.02 1626.49 1291.02 1618.92 1292.00 1611.20 C1293.02 1603.15 1294.02 1594.91 1295.00 1586.52 C1296.02 1577.79 1297.02 1568.87 1298.00 1559.80 C1299.02 1550.39 1300.02 1540.79 1301.00 1531.04 C1302.02 1520.96 1303.01 1510.68 1304.00 1500.26 C1305.02 1489.51 1306.01 1478.57 1307.00 1467.49 C1308.01 1456.10 1309.01 1444.52 1310.00 1432.82 C1311.01 1420.82 1312.01 1408.64 1313.00 1396.35 C1314.01 1383.78 1315.01 1371.05 1316.00 1358.22 C1317.01 1345.14 1318.01 1331.91 1319.00 1318.60 C1320.01 1305.07 1321.01 1291.41 1322.00 1277.69 C1323.01 1263.80 1324.00 1249.79 1325.00 1235.74 C1326.00 1221.56 1327.00 1207.28 1328.00 1193.00 C1329.00 1178.62 1330.00 1164.18 1331.00 1149.75 C1332.00 1135.29 1333.00 1120.78 1334.00 1106.32 C1335.00 1091.87 1336.00 1077.41 1337.00 1063.02 C1338.00 1048.70 1339.00 1034.39 1340.00 1020.18 C1341.00 1006.11 1341.99 992.07 1343.00 978.15 C1343.99 964.43 1344.99 950.77 1346.00 937.27 C1346.99 924.01 1347.99 910.83 1349.00 897.84 C1349.99 885.15 1350.99 872.57 1352.00 860.19 C1352.99 848.15 1353.98 836.25 1355.00 824.58 C1355.98 813.29 1356.98 802.15 1358.00 791.26 C1358.98 780.77 1359.98 770.46 1361.00 760.41 C1361.98 750.78 1362.97 741.34 1364.00 732.17 C1364.98 723.44 1365.97 714.90 1367.00 706.63 C1367.97 698.80 1368.97 691.16 1370.00 683.78 C1370.97 676.83 1371.97 670.08 1373.00 663.56 C1373.97 657.45 1374.97 651.53 1376.00 645.82 C1376.97 640.48 1377.97 635.32 1379.00 630.33 C1379.97 625.65 1380.97 621.15 1382.00 616.77 C1382.97 612.65 1383.98 608.67 1385.00 604.77 C1385.98 601.05 1386.99 597.46 1388.00 593.90 C1388.99 590.43 1390.00 587.07 1391.00 583.67 C1392.00 580.31 1393.01 577.00 1394.00 573.63 C1395.01 570.21 1396.01 566.80 1397.00 563.30 C1398.01 559.70 1399.02 556.06 1400.00 552.31 C1401.02 548.42 1402.02 544.44 1403.00 540.36 C1404.02 536.10 1405.02 531.73 1406.00 527.27 C1407.02 522.62 1408.02 517.85 1409.00 513.01 C1410.02 508.00 1411.01 502.87 1412.00 497.70 C1413.01 492.41 1414.01 487.01 1415.00 481.62 C1416.01 476.15 1417.00 470.62 1418.00 465.12 C1419.00 459.64 1419.99 454.11 1421.00 448.68 C1421.99 443.33 1422.98 437.98 1424.00 432.76 C1424.99 427.70 1425.98 422.68 1427.00 417.83 C1427.98 413.19 1428.97 408.63 1430.00 404.26 C1430.97 400.15 1431.96 396.14 1433.00 392.33 C1433.97 388.80 1434.95 385.38 1436.00 382.17 C1436.96 379.23 1437.95 376.41 1439.00 373.78 C1439.96 371.39 1440.95 369.12 1442.00 367.03 C1442.96 365.12 1443.95 363.33 1445.00 361.69 C1445.96 360.19 1446.95 358.80 1448.00 357.55 C1448.96 356.40 1449.95 355.33 1451.00 354.43 C1451.96 353.61 1452.96 352.84 1454.00 352.33 C1454.96 351.86 1456.00 351.46 1457.00 351.43 C1458.00 351.39 1459.06 351.62 1460.00 352.11 C1461.08 352.68 1462.08 353.72 1463.00 354.88 C1464.12 356.31 1465.08 358.22 1466.00 360.25 C1467.11 362.69 1468.06 365.57 1469.00 368.60 C1470.09 372.13 1471.05 376.07 1472.00 380.19 C1473.07 384.84 1474.04 389.88 1475.00 395.12 C1476.05 400.90 1477.04 407.06 1478.00 413.44 C1479.05 420.37 1480.03 427.67 1481.00 435.21 C1482.04 443.32 1483.03 451.79 1484.00 460.51 C1485.04 469.83 1486.03 479.52 1487.00 489.46 C1488.03 500.01 1489.03 510.92 1490.00 522.09 C1491.03 533.88 1492.02 546.02 1493.00 558.41 C1494.02 571.39 1495.02 584.73 1496.00 598.29 C1497.02 612.40 1498.02 626.84 1499.00 641.49 C1500.02 656.63 1501.01 672.09 1502.00 687.71 C1503.01 703.76 1504.01 720.09 1505.00 736.54 C1506.01 753.36 1507.01 770.41 1508.00 787.56 C1509.01 804.99 1510.01 822.60 1511.00 840.28 C1512.01 858.15 1513.00 876.17 1514.00 894.20 C1515.00 912.35 1516.00 930.60 1517.00 948.82 C1518.00 967.08 1519.00 985.40 1520.00 1003.65 C1521.00 1021.86 1522.00 1040.09 1523.00 1058.21 C1524.00 1076.22 1524.99 1094.21 1526.00 1112.06 C1526.99 1129.72 1527.99 1147.32 1529.00 1164.77 C1529.99 1181.96 1530.99 1199.05 1532.00 1215.96 C1532.99 1232.57 1533.99 1249.05 1535.00 1265.33 C1535.99 1281.25 1536.99 1297.02 1538.00 1312.57 C1538.99 1327.73 1539.99 1342.72 1541.00 1357.47 C1541.99 1371.80 1542.98 1385.94 1544.00 1399.84 C1544.98 1413.29 1545.98 1426.55 1547.00 1439.56 C1547.98 1452.11 1548.98 1464.46 1550.00 1476.54 C1550.98 1488.17 1551.98 1499.60 1553.00 1510.76 C1553.98 1521.47 1554.98 1531.98 1556.00 1542.23 C1556.98 1552.03 1557.98 1561.63 1559.00 1570.98 C1559.98 1579.89 1560.97 1588.61 1562.00 1597.09 C1562.98 1605.16 1563.97 1613.04 1565.00 1620.68 C1565.98 1627.94 1566.97 1635.01 1568.00 1641.88 C1568.97 1648.37 1569.97 1654.69 1571.00 1660.81 C1571.97 1666.60 1572.97 1672.22 1574.00 1677.66 C1574.97 1682.79 1575.97 1687.77 1577.00 1692.58 C1577.97 1697.11 1578.97 1701.50 1580.00 1705.74 C1580.97 1709.73 1581.97 1713.59 1583.00 1717.32 C1583.97 1720.82 1584.97 1724.21 1586.00 1727.47 C1586.97 1730.55 1587.97 1733.52 1589.00 1736.37 C1589.97 1739.07 1590.97 1741.66 1592.00 1744.16 C1592.97 1746.52 1593.97 1748.80 1595.00 1750.98 C1595.97 1753.06 1596.97 1755.05 1598.00 1756.97 C1598.98 1758.79 1599.98 1760.55 1601.00 1762.23 C1601.98 1763.84 1602.98 1765.39 1604.00 1766.88 C1604.98 1768.31 1605.98 1769.68 1607.00 1771.00 C1607.98 1772.27 1608.98 1773.49 1610.00 1774.67 C1610.98 1775.81 1611.99 1776.91 1613.00 1777.96 C1613.99 1778.99 1614.99 1779.98 1616.00 1780.93 C1616.99 1781.86 1617.99 1782.76 1619.00 1783.62 C1619.99 1784.47 1620.99 1785.29 1622.00 1786.08 C1622.99 1786.85 1623.99 1787.60 1625.00 1788.32 C1625.99 1789.03 1626.99 1789.72 1628.00 1790.38 C1628.99 1791.03 1629.99 1791.66 1631.00 1792.27 C1631.99 1792.88 1633.00 1793.46 1634.00 1794.02 C1635.00 1794.57 1636.00 1795.11 1637.00 1795.62 C1638.00 1796.13 1639.00 1796.62 1640.00 1797.09 C1641.00 1797.56 1642.00 1798.01 1643.00 1798.45 C1644.00 1798.87 1645.00 1799.28 1646.00 1799.68 C1647.00 1800.07 1648.00 1800.44 1649.00 1800.80 C1650.00 1801.16 1651.00 1801.49 1652.00 1801.82 C1653.00 1802.14 1654.00 1802.44 1655.00 1802.73 C1656.00 1803.02 1657.00 1803.29 1658.00 1803.55 C1659.00 1803.81 1660.00 1804.05 1661.00 1804.28 C1662.00 1804.51 1663.00 1804.73 1664.00 1804.93 C1665.00 1805.13 1666.00 1805.32 1667.00 1805.50 C1668.00 1805.67 1669.00 1805.84 1670.00 1805.99 C1671.00 1806.15 1672.00 1806.29 1673.00 1806.42 C1674.00 1806.56 1675.00 1806.68 1676.00 1806.79 C1677.00 1806.91 1678.00 1807.01 1679.00 1807.11 C1680.00 1807.21 1681.00 1807.30 1682.00 1807.38 C1683.00 1807.46 1684.00 1807.54 1685.00 1807.61 C1686.00 1807.68 1687.00 1807.74 1688.00 1807.80 C1689.00 1807.85 1690.00 1807.91 1691.00 1807.95 C1692.00 1808.00 1693.00 1808.04 1694.00 1808.08 C1695.00 1808.12 1696.00 1808.16 1697.00 1808.19 C1698.00 1808.22 1699.00 1808.25 1700.00 1808.28 C1701.00 1808.30 1702.00 1808.33 1703.00 1808.35 C1704.00 1808.37 1705.00 1808.39 1706.00 1808.40 C1707.00 1808.42 1708.00 1808.43 1709.00 1808.45 C1710.00 1808.46 1711.00 1808.47 1712.00 1808.48 C1713.00 1808.49 1714.00 1808.50 1715.00 1808.51 C1716.00 1808.52 1717.00 1808.53 1718.00 1808.53 C1719.00 1808.54 1720.00 1808.54 1721.00 1808.55 C1722.00 1808.55 1723.00 1808.56 1724.00 1808.56 C1725.00 1808.57 1726.00 1808.57 1727.00 1808.57 C1728.00 1808.57 1729.00 1808.58 1730.00 1808.58 C1731.00 1808.58 1732.00 1808.58 1733.00 1808.58 C1734.00 1808.59 1735.00 1808.59 1736.00 1808.59 C1737.00 1808.59 1738.27 1808.59 1739.00 1808.59 C1739.42 1808.59 1739.67 1808.59 1740.00 1808.59"/>
<path stroke="#92D050" d="M1178.00 1808.43 C1179.00 1808.41 1180.00 1808.40 1181.00 1808.39 C1182.00 1808.38 1183.00 1808.36 1184.00 1808.34 C1185.00 1808.33 1186.00 1808.31 1187.00 1808.29 C1188.00 1808.27 1189.00 1808.24 1190.00 1808.22 C1191.00 1808.19 1192.00 1808.16 1193.00 1808.13 C1194.00 1808.10 1195.00 1808.07 1196.00 1808.03 C1197.00 1807.99 1198.00 1807.95 1199.00 1807.90 C1200.00 1807.86 1201.00 1807.81 1202.00 1807.75 C1203.00 1807.69 1204.00 1807.63 1205.00 1807.56 C1206.00 1807.49 1207.00 1807.41 1208.00 1807.32 C1209.00 1807.24 1210.00 1807.15 1211.00 1807.04 C1212.00 1806.93 1213.00 1806.82 1214.00 1806.69 C1215.00 1806.56 1216.00 1806.42 1217.00 1806.27 C1218.00 1806.11 1219.00 1805.94 1220.00 1805.75 C1221.00 1805.56 1222.00 1805.35 1223.00 1805.12 C1224.00 1804.89 1225.00 1804.64 1226.00 1804.36 C1227.00 1804.08 1228.00 1803.78 1229.00 1803.45 C1230.00 1803.11 1231.01 1802.74 1232.00 1802.34 C1233.01 1801.93 1234.01 1801.49 1235.00 1801.01 C1236.01 1800.52 1237.01 1799.99 1238.00 1799.42 C1239.01 1798.83 1240.01 1798.20 1241.00 1797.52 C1242.01 1796.82 1243.02 1796.07 1244.00 1795.26 C1245.02 1794.43 1246.02 1793.54 1247.00 1792.59 C1248.02 1791.60 1249.02 1790.55 1250.00 1789.43 C1251.02 1788.27 1252.02 1787.03 1253.00 1785.72 C1254.03 1784.35 1255.03 1782.91 1256.00 1781.39 C1257.03 1779.78 1258.03 1778.10 1259.00 1776.33 C1260.03 1774.47 1261.03 1772.51 1262.00 1770.47 C1263.03 1768.31 1264.03 1766.05 1265.00 1763.71 C1266.03 1761.22 1267.03 1758.62 1268.00 1755.93 C1269.03 1753.08 1270.03 1750.11 1271.00 1747.04 C1272.03 1743.78 1273.03 1740.40 1274.00 1736.91 C1275.03 1733.22 1276.03 1729.39 1277.00 1725.45 C1278.03 1721.27 1279.03 1716.96 1280.00 1712.52 C1281.03 1707.84 1282.02 1703.00 1283.00 1698.03 C1284.03 1692.80 1285.02 1687.40 1286.00 1681.87 C1287.03 1676.05 1288.02 1670.06 1289.00 1663.93 C1290.03 1657.50 1291.02 1650.89 1292.00 1644.14 C1293.02 1637.06 1294.02 1629.81 1295.00 1622.41 C1296.02 1614.67 1297.02 1606.76 1298.00 1598.68 C1299.02 1590.28 1300.02 1581.68 1301.00 1572.93 C1302.02 1563.85 1303.02 1554.57 1304.00 1545.14 C1305.02 1535.38 1306.02 1525.42 1307.00 1515.32 C1308.02 1504.89 1309.01 1494.27 1310.00 1483.51 C1311.01 1472.43 1312.01 1461.17 1313.00 1449.78 C1314.01 1438.09 1315.01 1426.22 1316.00 1414.24 C1317.01 1401.97 1318.01 1389.55 1319.00 1377.02 C1320.01 1364.24 1321.01 1351.31 1322.00 1338.30 C1323.01 1325.07 1324.01 1311.71 1325.00 1298.28 C1326.01 1284.68 1327.00 1270.96 1328.00 1257.20 C1329.00 1243.30 1330.00 1229.31 1331.00 1215.31 C1332.00 1201.22 1333.00 1187.06 1334.00 1172.91 C1335.00 1158.72 1336.00 1144.49 1337.00 1130.29 C1338.00 1116.11 1339.00 1101.91 1340.00 1087.78 C1341.00 1073.71 1342.00 1059.66 1343.00 1045.70 C1344.00 1031.86 1344.99 1018.05 1346.00 1004.36 C1346.99 990.85 1347.99 977.40 1349.00 964.09 C1349.99 951.01 1350.99 938.01 1352.00 925.18 C1352.99 912.62 1353.99 900.16 1355.00 887.90 C1355.99 875.93 1356.98 864.10 1358.00 852.47 C1358.99 841.18 1359.98 830.03 1361.00 819.10 C1361.98 808.53 1362.98 798.12 1364.00 787.93 C1364.98 778.11 1365.98 768.47 1367.00 759.05 C1367.98 750.01 1368.98 741.15 1370.00 732.51 C1370.98 724.25 1371.97 716.16 1373.00 708.28 C1373.98 700.77 1374.97 693.44 1376.00 686.30 C1376.98 679.51 1377.97 672.89 1379.00 666.44 C1379.98 660.31 1380.97 654.34 1382.00 648.53 C1382.98 642.99 1383.98 637.61 1385.00 632.35 C1385.98 627.33 1386.98 622.44 1388.00 617.65 C1388.98 613.06 1389.98 608.59 1391.00 604.18 C1391.98 599.92 1392.99 595.77 1394.00 591.65 C1394.99 587.64 1395.99 583.71 1397.00 579.80 C1397.99 575.95 1399.00 572.16 1400.00 568.36 C1401.00 564.59 1402.00 560.86 1403.00 557.10 C1404.00 553.35 1405.00 549.60 1406.00 545.83 C1407.00 542.03 1408.01 538.22 1409.00 534.38 C1410.01 530.50 1411.01 526.60 1412.00 522.66 C1413.01 518.68 1414.01 514.66 1415.00 510.62 C1416.01 506.52 1417.01 502.39 1418.00 498.25 C1419.01 494.05 1420.00 489.83 1421.00 485.60 C1422.00 481.34 1423.00 477.05 1424.00 472.77 C1425.00 468.48 1426.00 464.17 1427.00 459.88 C1428.00 455.59 1429.00 451.30 1430.00 447.04 C1431.00 442.80 1431.99 438.57 1433.00 434.38 C1433.99 430.23 1434.99 426.09 1436.00 422.00 C1436.99 417.98 1437.99 413.98 1439.00 410.06 C1439.99 406.25 1440.98 402.46 1442.00 398.81 C1442.98 395.33 1443.96 391.88 1445.00 388.65 C1445.96 385.65 1446.94 382.71 1448.00 380.06 C1448.95 377.69 1449.91 375.40 1451.00 373.47 C1451.93 371.82 1452.90 370.24 1454.00 369.10 C1454.93 368.13 1455.94 367.27 1457.00 366.87 C1457.95 366.50 1459.02 366.40 1460.00 366.58 C1461.03 366.77 1462.06 367.36 1463.00 368.06 C1464.08 368.86 1465.06 370.02 1466.00 371.27 C1467.08 372.73 1468.06 374.48 1469.00 376.35 C1470.08 378.50 1471.05 380.94 1472.00 383.51 C1473.07 386.42 1474.05 389.61 1475.00 392.97 C1476.06 396.71 1477.04 400.74 1478.00 404.95 C1479.05 409.59 1480.04 414.52 1481.00 419.65 C1482.05 425.24 1483.04 431.14 1484.00 437.25 C1485.04 443.86 1486.03 450.78 1487.00 457.92 C1488.04 465.59 1489.03 473.58 1490.00 481.81 C1491.03 490.58 1492.03 499.69 1493.00 509.03 C1494.03 518.93 1495.02 529.17 1496.00 539.65 C1497.03 550.70 1498.02 562.09 1499.00 573.71 C1500.02 585.89 1501.02 598.40 1502.00 611.15 C1503.02 624.43 1504.02 638.04 1505.00 651.87 C1506.02 666.20 1507.02 680.84 1508.00 695.67 C1509.02 710.98 1510.01 726.56 1511.00 742.31 C1512.01 758.48 1513.01 774.90 1514.00 791.45 C1515.01 808.36 1516.01 825.48 1517.00 842.70 C1518.01 860.19 1519.01 877.87 1520.00 895.60 C1521.01 913.52 1522.00 931.58 1523.00 949.65 C1524.00 967.83 1525.00 986.11 1526.00 1004.35 C1527.00 1022.61 1528.00 1040.92 1529.00 1059.16 C1530.00 1077.33 1531.00 1095.50 1532.00 1113.55 C1533.00 1131.46 1533.99 1149.32 1535.00 1167.03 C1535.99 1184.51 1536.99 1201.91 1538.00 1219.12 C1538.99 1236.04 1539.99 1252.84 1541.00 1269.41 C1541.99 1285.63 1542.99 1301.71 1544.00 1317.54 C1544.99 1332.96 1545.98 1348.21 1547.00 1363.20 C1547.99 1377.74 1548.98 1392.09 1550.00 1406.16 C1550.98 1419.77 1551.98 1433.16 1553.00 1446.28 C1553.98 1458.90 1554.98 1471.31 1556.00 1483.44 C1556.98 1495.07 1557.98 1506.48 1559.00 1517.62 C1559.98 1528.26 1560.97 1538.69 1562.00 1548.84 C1562.98 1558.52 1563.97 1567.98 1565.00 1577.18 C1565.98 1585.92 1566.97 1594.46 1568.00 1602.75 C1568.97 1610.61 1569.97 1618.27 1571.00 1625.70 C1571.97 1632.73 1572.97 1639.57 1574.00 1646.20 C1574.97 1652.46 1575.97 1658.54 1577.00 1664.43 C1577.97 1669.98 1578.97 1675.37 1580.00 1680.59 C1580.97 1685.50 1581.97 1690.27 1583.00 1694.88 C1583.97 1699.22 1584.97 1703.42 1586.00 1707.48 C1586.97 1711.31 1587.97 1715.01 1589.00 1718.59 C1589.97 1721.96 1590.97 1725.22 1592.00 1728.37 C1592.97 1731.35 1593.97 1734.22 1595.00 1736.99 C1595.97 1739.62 1596.97 1742.15 1598.00 1744.59 C1598.98 1746.91 1599.97 1749.15 1601.00 1751.31 C1601.98 1753.36 1602.98 1755.35 1604.00 1757.26 C1604.98 1759.08 1605.98 1760.84 1607.00 1762.53 C1607.98 1764.16 1608.98 1765.72 1610.00 1767.23 C1610.98 1768.68 1611.98 1770.07 1613.00 1771.42 C1613.98 1772.72 1614.98 1773.96 1616.00 1775.17 C1616.98 1776.33 1617.99 1777.45 1619.00 1778.53 C1619.99 1779.58 1620.99 1780.59 1622.00 1781.56 C1622.99 1782.51 1623.99 1783.41 1625.00 1784.29 C1625.99 1785.14 1626.99 1785.96 1628.00 1786.75 C1628.99 1787.52 1629.99 1788.26 1631.00 1788.98 C1631.99 1789.68 1632.99 1790.35 1634.00 1790.99 C1634.99 1791.63 1635.99 1792.23 1637.00 1792.81 C1637.99 1793.39 1638.99 1793.94 1640.00 1794.47 C1640.99 1794.99 1642.00 1795.48 1643.00 1795.96 C1644.00 1796.43 1645.00 1796.88 1646.00 1797.31 C1647.00 1797.74 1648.00 1798.14 1649.00 1798.53 C1650.00 1798.92 1651.00 1799.29 1652.00 1799.64 C1653.00 1799.99 1654.00 1800.32 1655.00 1800.63 C1656.00 1800.95 1657.00 1801.24 1658.00 1801.53 C1659.00 1801.81 1660.00 1802.08 1661.00 1802.33 C1662.00 1802.59 1663.00 1802.83 1664.00 1803.06 C1665.00 1803.29 1666.00 1803.50 1667.00 1803.71 C1668.00 1803.91 1669.00 1804.10 1670.00 1804.29 C1671.00 1804.47 1672.00 1804.64 1673.00 1804.80 C1674.00 1804.97 1675.00 1805.12 1676.00 1805.27 C1677.00 1805.41 1678.00 1805.55 1679.00 1805.68 C1680.00 1805.80 1681.00 1805.93 1682.00 1806.04 C1683.00 1806.16 1684.00 1806.26 1685.00 1806.36 C1686.00 1806.47 1687.00 1806.56 1688.00 1806.65 C1689.00 1806.74 1690.00 1806.82 1691.00 1806.90 C1692.00 1806.98 1693.00 1807.05 1694.00 1807.12 C1695.00 1807.19 1696.00 1807.26 1697.00 1807.32 C1698.00 1807.38 1699.00 1807.44 1700.00 1807.49 C1701.00 1807.55 1702.00 1807.60 1703.00 1807.64 C1704.00 1807.69 1705.00 1807.73 1706.00 1807.77 C1707.00 1807.81 1708.00 1807.85 1709.00 1807.89 C1710.00 1807.92 1711.00 1807.96 1712.00 1807.99 C1713.00 1808.02 1714.00 1808.05 1715.00 1808.07 C1716.00 1808.10 1717.00 1808.13 1718.00 1808.15 C1719.00 1808.17 1720.00 1808.20 1721.00 1808.22 C1722.00 1808.24 1723.00 1808.25 1724.00 1808.27 C1725.00 1808.29 1726.00 1808.31 1727.00 1808.32 C1728.00 1808.34 1729.00 1808.35 1730.00 1808.36 C1731.00 1808.38 1732.00 1808.39 1733.00 1808.40 C1734.00 1808.41 1735.00 1808.42 1736.00 1808.43 C1737.00 1808.44 1738.00 1808.45 1739.00 1808.46 C1740.00 1808.46 1741.00 1808.47 1742.00 1808.48 C1743.00 1808.48 1744.10 1808.49 1745.00 1808.50 C1745.73 1808.50 1746.33 1808.50 1747.00 1808.51"/>
<path stroke="#AEAAAA" d="M1163.00 1808.46 C1164.00 1808.44 1165.00 1808.43 1166.00 1808.41 C1167.00 1808.39 1168.00 1808.36 1169.00 1808.34 C1170.00 1808.31 1171.00 1808.29 1172.00 1808.25 C1173.00 1808.22 1174.00 1808.18 1175.00 1808.14 C1176.00 1808.09 1177.00 1808.05 1178.00 1807.99 C1179.00 1807.93 1180.00 1807.87 1181.00 1807.80 C1182.00 1807.72 1183.00 1807.64 1184.00 1807.55 C1185.00 1807.46 1186.00 1807.35 1187.00 1807.23 C1188.00 1807.11 1189.00 1806.98 1190.00 1806.83 C1191.00 1806.68 1192.00 1806.52 1193.00 1806.33 C1194.00 1806.14 1195.00 1805.93 1196.00 1805.69 C1197.00 1805.45 1198.00 1805.19 1199.00 1804.89 C1200.00 1804.60 1201.01 1804.27 1202.00 1803.91 C1203.01 1803.54 1204.01 1803.14 1205.00 1802.69 C1206.01 1802.23 1207.01 1801.74 1208.00 1801.19 C1209.01 1800.63 1210.01 1800.02 1211.00 1799.36 C1212.02 1798.68 1213.02 1797.94 1214.00 1797.14 C1215.02 1796.32 1216.02 1795.43 1217.00 1794.47 C1218.02 1793.47 1219.02 1792.40 1220.00 1791.26 C1221.03 1790.06 1222.03 1788.79 1223.00 1787.44 C1224.03 1786.01 1225.03 1784.50 1226.00 1782.90 C1227.03 1781.22 1228.03 1779.43 1229.00 1777.57 C1230.03 1775.58 1231.03 1773.49 1232.00 1771.31 C1233.03 1768.99 1234.03 1766.56 1235.00 1764.04 C1236.03 1761.35 1237.03 1758.54 1238.00 1755.62 C1239.03 1752.52 1240.03 1749.29 1241.00 1745.95 C1242.03 1742.40 1243.03 1738.71 1244.00 1734.90 C1245.03 1730.86 1246.03 1726.67 1247.00 1722.35 C1248.03 1717.78 1249.03 1713.06 1250.00 1708.20 C1251.03 1703.06 1252.02 1697.76 1253.00 1692.33 C1254.03 1686.60 1255.02 1680.70 1256.00 1674.65 C1257.03 1668.30 1258.02 1661.77 1259.00 1655.09 C1260.02 1648.09 1261.02 1640.91 1262.00 1633.58 C1263.02 1625.93 1264.02 1618.08 1265.00 1610.09 C1266.02 1601.77 1267.02 1593.26 1268.00 1584.61 C1269.02 1575.63 1270.02 1566.46 1271.00 1557.15 C1272.02 1547.52 1273.01 1537.70 1274.00 1527.76 C1275.02 1517.51 1276.01 1507.08 1277.00 1496.53 C1278.01 1485.69 1279.01 1474.68 1280.00 1463.57 C1281.01 1452.19 1282.01 1440.66 1283.00 1429.04 C1284.01 1417.18 1285.01 1405.19 1286.00 1393.12 C1287.01 1380.86 1288.01 1368.47 1289.00 1356.04 C1290.01 1343.45 1291.00 1330.75 1292.00 1318.03 C1293.00 1305.20 1294.00 1292.29 1295.00 1279.38 C1296.00 1266.40 1297.00 1253.38 1298.00 1240.37 C1299.00 1227.35 1300.00 1214.30 1301.00 1201.30 C1302.00 1188.35 1303.00 1175.38 1304.00 1162.49 C1305.00 1149.70 1305.99 1136.92 1307.00 1124.24 C1307.99 1111.70 1308.99 1099.21 1310.00 1086.84 C1310.99 1074.66 1311.99 1062.54 1313.00 1050.57 C1313.99 1038.82 1314.99 1027.16 1316.00 1015.67 C1316.99 1004.43 1317.99 993.30 1319.00 982.35 C1319.99 971.68 1320.98 961.14 1322.00 950.79 C1322.99 940.74 1323.98 930.83 1325.00 921.10 C1325.98 911.70 1326.98 902.45 1328.00 893.38 C1328.98 884.63 1329.98 876.04 1331.00 867.63 C1331.98 859.54 1332.98 851.60 1334.00 843.84 C1334.98 836.38 1335.98 829.07 1337.00 821.92 C1337.98 815.06 1338.98 808.34 1340.00 801.77 C1340.98 795.45 1341.98 789.27 1343.00 783.21 C1343.98 777.38 1344.98 771.68 1346.00 766.07 C1346.98 760.66 1347.98 755.36 1349.00 750.13 C1349.99 745.06 1350.99 740.09 1352.00 735.17 C1352.99 730.37 1353.99 725.64 1355.00 720.95 C1355.99 716.34 1356.99 711.79 1358.00 707.25 C1358.99 702.76 1360.00 698.31 1361.00 693.86 C1362.00 689.42 1363.00 685.01 1364.00 680.58 C1365.00 676.14 1366.00 671.71 1367.00 667.26 C1368.00 662.77 1369.00 658.28 1370.00 653.76 C1371.00 649.19 1372.01 644.61 1373.00 639.99 C1374.01 635.32 1375.01 630.62 1376.00 625.89 C1377.01 621.10 1378.01 616.28 1379.00 611.44 C1380.01 606.54 1381.00 601.60 1382.00 596.65 C1383.00 591.64 1384.00 586.60 1385.00 581.55 C1386.00 576.46 1387.00 571.34 1388.00 566.22 C1389.00 561.07 1390.00 555.90 1391.00 550.74 C1392.00 545.57 1393.00 540.38 1394.00 535.21 C1395.00 530.05 1396.00 524.88 1397.00 519.74 C1398.00 514.62 1399.00 509.51 1400.00 504.43 C1401.00 499.40 1401.99 494.39 1403.00 489.42 C1403.99 484.50 1404.99 479.62 1406.00 474.78 C1406.99 470.03 1407.99 465.30 1409.00 460.63 C1409.99 456.05 1410.99 451.51 1412.00 447.04 C1412.99 442.66 1413.99 438.33 1415.00 434.08 C1415.99 429.94 1416.98 425.85 1418.00 421.86 C1418.98 418.01 1419.97 414.22 1421.00 410.57 C1421.98 407.10 1422.96 403.69 1424.00 400.48 C1424.97 397.50 1425.94 394.59 1427.00 391.94 C1427.95 389.56 1428.92 387.25 1430.00 385.27 C1430.94 383.56 1431.89 381.90 1433.00 380.69 C1433.93 379.68 1434.93 378.71 1436.00 378.32 C1436.95 377.98 1438.05 377.93 1439.00 378.24 C1440.07 378.60 1441.09 379.56 1442.00 380.59 C1443.13 381.87 1444.08 383.68 1445.00 385.58 C1446.11 387.87 1447.07 390.61 1448.00 393.50 C1449.09 396.88 1450.06 400.67 1451.00 404.66 C1452.07 409.21 1453.05 414.17 1454.00 419.35 C1455.06 425.14 1456.04 431.35 1457.00 437.81 C1458.05 444.91 1459.04 452.42 1460.00 460.21 C1461.04 468.65 1462.03 477.52 1463.00 486.66 C1464.04 496.48 1465.03 506.72 1466.00 517.22 C1467.03 528.41 1468.03 540.00 1469.00 551.86 C1470.03 564.37 1471.02 577.29 1472.00 590.46 C1473.02 604.25 1474.02 618.43 1475.00 632.83 C1476.02 647.82 1477.02 663.17 1478.00 678.72 C1479.02 694.79 1480.01 711.19 1481.00 727.77 C1482.01 744.80 1483.01 762.12 1484.00 779.57 C1485.01 797.41 1486.01 815.49 1487.00 833.66 C1488.01 852.13 1489.01 870.80 1490.00 889.51 C1491.01 908.43 1492.00 927.51 1493.00 946.58 C1494.00 965.76 1495.00 985.05 1496.00 1004.29 C1497.00 1023.54 1498.00 1042.84 1499.00 1062.06 C1500.00 1081.19 1501.00 1100.33 1502.00 1119.33 C1503.00 1138.16 1503.99 1156.95 1505.00 1175.56 C1505.99 1193.92 1506.99 1212.19 1508.00 1230.25 C1508.99 1247.97 1509.99 1265.58 1511.00 1282.94 C1511.99 1299.90 1512.99 1316.70 1514.00 1333.23 C1514.99 1349.31 1515.98 1365.21 1517.00 1380.81 C1517.98 1395.92 1518.98 1410.81 1520.00 1425.40 C1520.98 1439.47 1521.98 1453.31 1523.00 1466.83 C1523.98 1479.81 1524.98 1492.55 1526.00 1504.98 C1526.98 1516.85 1527.97 1528.49 1529.00 1539.80 C1529.98 1550.57 1530.97 1561.10 1532.00 1571.32 C1532.97 1581.01 1533.97 1590.46 1535.00 1599.62 C1535.97 1608.27 1536.97 1616.69 1538.00 1624.83 C1538.97 1632.49 1539.97 1639.94 1541.00 1647.12 C1541.97 1653.87 1542.96 1660.41 1544.00 1666.72 C1544.97 1672.62 1545.96 1678.34 1547.00 1683.84 C1547.97 1688.99 1548.96 1693.96 1550.00 1698.74 C1550.97 1703.21 1551.96 1707.53 1553.00 1711.67 C1553.97 1715.55 1554.97 1719.29 1556.00 1722.89 C1556.97 1726.26 1557.97 1729.50 1559.00 1732.62 C1559.97 1735.55 1560.97 1738.37 1562.00 1741.09 C1562.97 1743.66 1563.97 1746.13 1565.00 1748.51 C1565.97 1750.77 1566.97 1752.94 1568.00 1755.05 C1568.98 1757.05 1569.98 1758.98 1571.00 1760.85 C1571.98 1762.65 1572.98 1764.38 1574.00 1766.06 C1574.98 1767.68 1575.98 1769.24 1577.00 1770.76 C1577.98 1772.23 1578.98 1773.65 1580.00 1775.03 C1580.99 1776.37 1581.99 1777.67 1583.00 1778.93 C1583.99 1780.16 1584.99 1781.36 1586.00 1782.51 C1586.99 1783.64 1587.99 1784.73 1589.00 1785.79 C1589.99 1786.83 1590.99 1787.83 1592.00 1788.79 C1592.99 1789.74 1593.99 1790.65 1595.00 1791.53 C1595.99 1792.38 1596.99 1793.21 1598.00 1794.00 C1598.99 1794.77 1599.99 1795.52 1601.00 1796.22 C1601.99 1796.92 1602.99 1797.58 1604.00 1798.21 C1604.99 1798.82 1605.99 1799.40 1607.00 1799.95 C1607.99 1800.49 1608.99 1801.00 1610.00 1801.48 C1610.99 1801.95 1611.99 1802.39 1613.00 1802.79 C1613.99 1803.20 1615.00 1803.57 1616.00 1803.92 C1617.00 1804.26 1618.00 1804.57 1619.00 1804.86 C1620.00 1805.15 1621.00 1805.41 1622.00 1805.65 C1623.00 1805.89 1624.00 1806.10 1625.00 1806.30 C1626.00 1806.49 1627.00 1806.66 1628.00 1806.82 C1629.00 1806.98 1630.00 1807.12 1631.00 1807.24 C1632.00 1807.37 1633.00 1807.48 1634.00 1807.57 C1635.00 1807.67 1636.00 1807.76 1637.00 1807.83 C1638.00 1807.91 1639.00 1807.98 1640.00 1808.04 C1641.00 1808.09 1642.00 1808.14 1643.00 1808.19 C1644.00 1808.23 1645.00 1808.27 1646.00 1808.30 C1647.00 1808.34 1648.00 1808.36 1649.00 1808.39 C1650.00 1808.41 1651.00 1808.43 1652.00 1808.45 C1653.00 1808.47 1654.00 1808.48 1655.00 1808.50 C1656.00 1808.51 1657.00 1808.52 1658.00 1808.53 C1659.00 1808.54 1660.00 1808.55 1661.00 1808.55 C1662.00 1808.56 1663.00 1808.56 1664.00 1808.57 C1665.00 1808.57 1666.00 1808.58 1667.00 1808.58 C1668.00 1808.58 1669.00 1808.58 1670.00 1808.59 C1671.00 1808.59 1672.00 1808.59 1673.00 1808.59 C1674.00 1808.59 1675.00 1808.59 1676.00 1808.59 C1677.00 1808.60 1678.00 1808.60 1679.00 1808.60 C1680.00 1808.60 1681.00 1808.60 1682.00 1808.60 C1683.00 1808.60 1684.00 1808.60 1685.00 1808.60 C1686.00 1808.60 1687.00 1808.60 1688.00 1808.60 C1689.00 1808.60 1690.00 1808.60 1691.00 1808.60 C1692.00 1808.60 1693.00 1808.60 1694.00 1808.60 C1695.00 1808.60 1696.00 1808.60 1697.00 1808.60 C1698.00 1808.60 1699.00 1808.60 1700.00 1808.60 C1701.00 1808.60 1702.00 1808.60 1703.00 1808.60 C1704.00 1808.60 1705.00 1808.60 1706.00 1808.60 C1707.00 1808.60 1708.00 1808.60 1709.00 1808.60 C1710.00 1808.60 1711.00 1808.60 1712.00 1808.60 C1713.00 1808.60 1714.00 1808.60 1715.00 1808.60"/>
</g>
<g fill="none" stroke-linecap="round" stroke-width="9.8">
<line x1="521.4" y1="118.5" x2="663.4" y2="118.5" stroke="#000000"/>
<line x1="521.4" y1="209.6" x2="663.4" y2="209.6" stroke="#ED7D31"/>
<line x1="521.4" y1="297.2" x2="663.4" y2="297.2" stroke="#00B0F0"/>
<line x1="521.4" y1="388.3" x2="663.4" y2="388.3" stroke="#FFC000"/>
<line x1="521.4" y1="479.8" x2="663.4" y2="479.8" stroke="#92D050"/>
<line x1="521.4" y1="570.7" x2="663.4" y2="570.7" stroke="#AEAAAA"/>
</g>
<text xml:space="preserve"><tspan x="174.10" y="77.90" font-size="56" textLength="119.00">1.80</tspan><tspan x="293.40" y="77.90" font-size="56" textLength="29.36" lengthAdjust="spacingAndGlyphs">E</tspan><tspan x="323.30" y="77.90" font-size="56" textLength="33.40" lengthAdjust="spacingAndGlyphs">+</tspan><tspan x="357.30" y="77.90" font-size="56" textLength="63.30">21</tspan></text>
<text xml:space="preserve"><tspan x="174.10" y="272.28" font-size="56" textLength="119.00">1.60</tspan><tspan x="293.40" y="272.28" font-size="56" textLength="29.36" lengthAdjust="spacingAndGlyphs">E</tspan><tspan x="323.30" y="272.28" font-size="56" textLength="33.40" lengthAdjust="spacingAndGlyphs">+</tspan><tspan x="357.30" y="272.28" font-size="56" textLength="63.30">21</tspan></text>
<text xml:space="preserve"><tspan x="174.10" y="466.66" font-size="56" textLength="119.00">1.40</tspan><tspan x="293.40" y="466.66" font-size="56" textLength="29.36" lengthAdjust="spacingAndGlyphs">E</tspan><tspan x="323.30" y="466.66" font-size="56" textLength="33.40" lengthAdjust="spacingAndGlyphs">+</tspan><tspan x="357.30" y="466.66" font-size="56" textLength="63.30">21</tspan></text>
<text xml:space="preserve"><tspan x="174.10" y="661.03" font-size="56" textLength="119.00">1.20</tspan><tspan x="293.40" y="661.03" font-size="56" textLength="29.36" lengthAdjust="spacingAndGlyphs">E</tspan><tspan x="323.30" y="661.03" font-size="56" textLength="33.40" lengthAdjust="spacingAndGlyphs">+</tspan><tspan x="357.30" y="661.03" font-size="56" textLength="63.30">21</tspan></text>
<text xml:space="preserve"><tspan x="174.10" y="855.41" font-size="56" textLength="119.00">1.00</tspan><tspan x="293.40" y="855.41" font-size="56" textLength="29.36" lengthAdjust="spacingAndGlyphs">E</tspan><tspan x="323.30" y="855.41" font-size="56" textLength="33.40" lengthAdjust="spacingAndGlyphs">+</tspan><tspan x="357.30" y="855.41" font-size="56" textLength="63.30">21</tspan></text>
<text xml:space="preserve"><tspan x="174.10" y="1049.79" font-size="56" textLength="119.00">8.00</tspan><tspan x="293.40" y="1049.79" font-size="56" textLength="29.36" lengthAdjust="spacingAndGlyphs">E</tspan><tspan x="323.30" y="1049.79" font-size="56" textLength="33.40" lengthAdjust="spacingAndGlyphs">+</tspan><tspan x="357.30" y="1049.79" font-size="56" textLength="63.30">20</tspan></text>
<text xml:space="preserve"><tspan x="174.10" y="1244.17" font-size="56" textLength="119.00">6.00</tspan><tspan x="293.40" y="1244.17" font-size="56" textLength="29.36" lengthAdjust="spacingAndGlyphs">E</tspan><tspan x="323.30" y="1244.17" font-size="56" textLength="33.40" lengthAdjust="spacingAndGlyphs">+</tspan><tspan x="357.30" y="1244.17" font-size="56" textLength="63.30">20</tspan></text>
<text xml:space="preserve"><tspan x="174.10" y="1438.54" font-size="56" textLength="119.00">4.00</tspan><tspan x="293.40" y="1438.54" font-size="56" textLength="29.36" lengthAdjust="spacingAndGlyphs">E</tspan><tspan x="323.30" y="1438.54" font-size="56" textLength="33.40" lengthAdjust="spacingAndGlyphs">+</tspan><tspan x="357.30" y="1438.54" font-size="56" textLength="63.30">20</tspan></text>
<text xml:space="preserve"><tspan x="174.10" y="1632.92" font-size="56" textLength="119.00">2.00</tspan><tspan x="293.40" y="1632.92" font-size="56" textLength="29.36" lengthAdjust="spacingAndGlyphs">E</tspan><tspan x="323.30" y="1632.92" font-size="56" textLength="33.40" lengthAdjust="spacingAndGlyphs">+</tspan><tspan x="357.30" y="1632.92" font-size="56" textLength="63.30">20</tspan></text>
<text xml:space="preserve"><tspan x="174.10" y="1827.30" font-size="56" textLength="119.00">0.00</tspan><tspan x="293.40" y="1827.30" font-size="56" textLength="29.36" lengthAdjust="spacingAndGlyphs">E</tspan><tspan x="323.30" y="1827.30" font-size="56" textLength="33.40" lengthAdjust="spacingAndGlyphs">+</tspan><tspan x="357.30" y="1827.30" font-size="56" textLength="63.30">00</tspan></text>
<text xml:space="preserve"><tspan x="437.30" y="1911.70" font-size="56" textLength="101.44">250</tspan></text>
<text xml:space="preserve"><tspan x="753.63" y="1911.70" font-size="56" textLength="101.44">300</tspan></text>
<text xml:space="preserve"><tspan x="1069.97" y="1911.70" font-size="56" textLength="101.44">350</tspan></text>
<text xml:space="preserve"><tspan x="1386.30" y="1911.70" font-size="56" textLength="101.44">400</tspan></text>
<text xml:space="preserve"><tspan x="1702.63" y="1911.70" font-size="56" textLength="101.44">450</tspan></text>
<text xml:space="preserve"><tspan x="2018.97" y="1911.70" font-size="56" textLength="101.44">500</tspan></text>
<text xml:space="preserve"><tspan x="2335.30" y="1911.70" font-size="56" textLength="101.44">550</tspan></text>
<text xml:space="preserve"><tspan x="675.10" y="139.80" font-size="62" textLength="76.22" lengthAdjust="spacingAndGlyphs">Ga</tspan><tspan x="753.40" y="139.80" font-size="62" textLength="176.97"> Polar</tspan></text>
<text xml:space="preserve"><tspan x="676.50" y="227.40" font-size="62">N</tspan><tspan x="718.30" y="227.40" font-size="62" textLength="176.77"> Polar</tspan></text>
<text xml:space="preserve"><tspan x="674.70" y="319.40" font-size="62" textLength="304.92">Semipolar</tspan><tspan x="978.00" y="319.40" font-size="59.5" textLength="215.03"> 10-1-3</tspan></text>
<text xml:space="preserve"><tspan x="676.70" y="409.40" font-size="62" textLength="298.08">semipolar</tspan><tspan x="976.40" y="409.40" font-size="59.5" textLength="209.93"> 10-1-1</tspan></text>
<text xml:space="preserve"><tspan x="674.70" y="500.70" font-size="62" textLength="304.92">Semipolar</tspan><tspan x="978.30" y="500.70" font-size="59.5" textLength="189.90"> 112-2</tspan></text>
<text xml:space="preserve"><tspan x="675.30" y="588.10" font-size="62" textLength="282.61">Nonpolar</tspan></text>
<text xml:space="preserve"><tspan x="1186.40" y="2020.80" font-size="62" textLength="340.09">Wavelengh</tspan><tspan x="1525.55" y="2020.80" font-size="62"> (</tspan><tspan x="1569.05" y="2020.80" font-size="62">n</tspan><tspan x="1609.30" y="2020.80" font-size="62" textLength="54.96" lengthAdjust="spacingAndGlyphs">m</tspan><tspan x="1668.70" y="2020.80" font-size="62">)</tspan></text>
<text transform="translate(87.60 1403.00) rotate(-90)" xml:space="preserve"><tspan x="-4.00" y="0.00" font-size="62" textLength="261.82">Emission</tspan><tspan x="258.10" y="0.00" font-size="62" textLength="285.52"> Intensity</tspan><tspan x="547.15" y="0.00" font-size="62"> (</tspan><tspan x="589.15" y="0.00" font-size="62">c</tspan><tspan x="622.10" y="0.00" font-size="62" textLength="58.93" lengthAdjust="spacingAndGlyphs">m</tspan><tspan x="679.80" y="-20.70" font-size="44" stroke-width="2.2" textLength="39.12">-2</tspan><tspan x="718.45" y="0.00" font-size="62">s</tspan><tspan x="746.90" y="-20.70" font-size="44" stroke-width="2.2" textLength="38.43">-1</tspan><tspan x="786.95" y="0.00" font-size="62">n</tspan><tspan x="825.30" y="0.00" font-size="62" textLength="57.66" lengthAdjust="spacingAndGlyphs">m</tspan><tspan x="883.00" y="-20.70" font-size="44" stroke-width="2.2" textLength="39.73">-1</tspan><tspan x="924.40" y="0.00" font-size="62">)</tspan></text>
</svg></body></html>
